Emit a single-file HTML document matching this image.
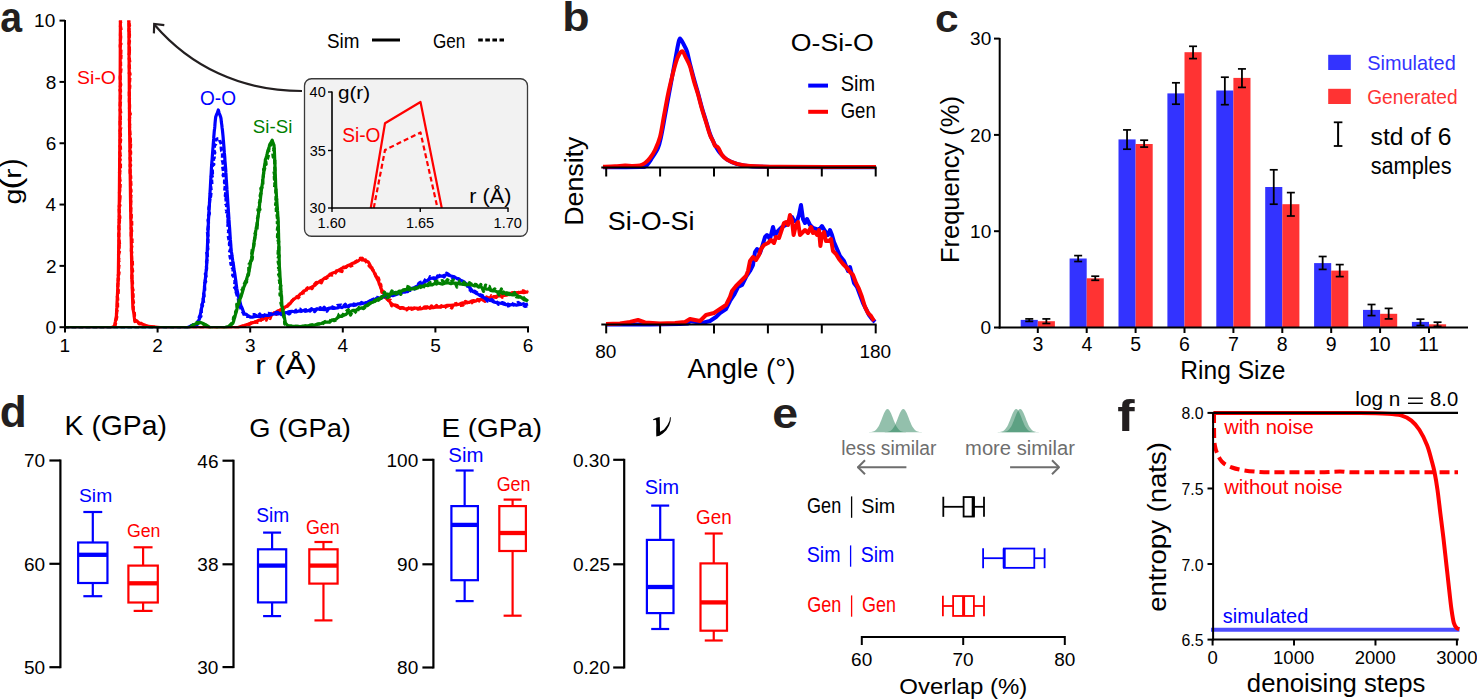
<!DOCTYPE html>
<html><head><meta charset="utf-8"><style>
html,body{margin:0;padding:0;background:#fff;overflow:hidden;width:1477px;height:700px;}
svg{display:block;}
text{font-family:"Liberation Sans", sans-serif;}
</style></head><body>
<svg width="1477" height="700" viewBox="0 0 1477 700">
<rect width="1477" height="700" fill="#fff"/>
<text x="0.32" y="32.00" font-size="41.67" fill="#231f20" font-weight="bold" font-style="normal" textLength="21.83" lengthAdjust="spacingAndGlyphs">a</text>
<defs><clipPath id="ca"><rect x="64" y="20.6" width="470" height="307.6"/></clipPath></defs>
<g clip-path="url(#ca)">
<path d="M65.00,327.50 L67.04,327.50 L69.09,327.50 L71.13,327.50 L73.17,327.50 L75.22,327.50 L77.26,327.50 L79.30,327.50 L81.35,327.50 L83.39,327.50 L85.43,327.50 L87.48,327.50 L89.52,327.50 L91.57,327.50 L93.61,327.50 L95.65,327.50 L97.70,327.50 L99.74,327.50 L101.78,327.50 L103.83,327.50 L105.87,327.50 L107.91,327.50 L109.96,327.50 L112.00,327.50 L114.50,326.03 L114.88,323.91 L115.26,322.12 L115.64,319.98 L116.02,317.90 L116.40,315.99 L116.50,313.54 L116.60,312.21 L116.70,309.40 L116.80,307.94 L116.90,305.55 L117.00,303.71 L117.10,301.28 L117.20,300.05 L117.30,296.85 L117.40,295.60 L117.50,293.61 L117.60,291.40 L117.70,288.89 L117.80,286.79 L117.90,284.82 L118.00,283.17 L118.10,281.59 L118.20,278.50 L118.30,276.51 L118.33,275.38 L118.35,272.83 L118.38,270.42 L118.41,268.58 L118.43,266.59 L118.46,264.60 L118.48,262.80 L118.51,260.77 L118.54,258.78 L118.56,257.30 L118.59,254.39 L118.62,252.31 L118.64,250.09 L118.67,248.71 L118.69,247.08 L118.72,244.67 L118.75,242.62 L118.77,240.37 L118.80,238.81 L118.83,236.30 L118.85,234.47 L118.88,232.05 L118.91,230.64 L118.93,228.31 L118.96,226.35 L118.98,224.29 L119.01,222.01 L119.04,220.65 L119.06,218.54 L119.09,215.93 L119.12,214.42 L119.14,212.12 L119.17,210.27 L119.19,207.62 L119.22,206.48 L119.25,204.10 L119.27,201.69 L119.30,200.42 L119.32,197.91 L119.33,196.05 L119.35,194.05 L119.37,191.82 L119.39,190.38 L119.41,187.89 L119.42,186.30 L119.44,184.31 L119.46,181.44 L119.47,179.74 L119.49,177.80 L119.51,175.69 L119.53,173.74 L119.55,171.70 L119.56,169.77 L119.58,167.84 L119.60,166.58 L119.61,163.58 L119.63,161.92 L119.65,159.87 L119.67,158.31 L119.69,156.07 L119.70,154.04 L119.72,152.36 L119.74,150.55 L119.75,148.14 L119.77,146.25 L119.79,143.91 L119.81,142.31 L119.83,140.36 L119.84,137.69 L119.86,135.63 L119.88,133.55 L119.89,131.92 L119.91,129.85 L119.93,128.52 L119.95,125.81 L119.97,123.79 L119.98,122.29 L120.00,120.44 L120.01,118.00 L120.02,115.49 L120.02,114.41 L120.03,112.25 L120.04,109.59 L120.05,108.33 L120.05,105.79 L120.06,103.34 L120.07,102.32 L120.08,99.59 L120.08,97.87 L120.09,95.98 L120.10,93.66 L120.11,91.49 L120.12,90.24 L120.12,87.35 L120.13,85.51 L120.14,84.19 L120.15,81.79 L120.15,79.56 L120.16,77.86 L120.17,76.10 L120.18,73.49 L120.18,71.10 L120.19,69.84 L120.20,67.38 L120.21,65.90 L120.22,63.15 L120.22,61.96 L120.23,59.41 L120.24,57.29 L120.25,55.36 L120.25,52.99 L120.26,51.31 L120.27,49.03 L120.28,46.86 L120.28,44.79 L120.29,43.40 L120.30,41.02 L120.31,38.95 L120.32,37.54 L120.32,35.24 L120.33,33.67 L120.34,30.88 L120.35,29.62 L120.35,27.44 L120.36,24.94 L120.37,22.87 L120.38,21.05 L120.38,18.45 L120.39,16.56 L120.40,14.58 L122.50,15.13 L124.60,14.45 L126.70,14.53 L128.80,14.57 L128.81,17.39 L128.83,19.50 L128.84,21.65 L128.85,22.59 L128.87,24.87 L128.88,26.88 L128.89,28.55 L128.91,30.56 L128.92,33.62 L128.93,34.98 L128.95,37.53 L128.96,38.74 L128.98,41.01 L128.99,43.54 L129.00,45.49 L129.02,46.79 L129.03,48.77 L129.04,51.86 L129.06,53.01 L129.07,55.29 L129.08,57.78 L129.10,58.89 L129.11,61.34 L129.12,63.18 L129.14,65.48 L129.15,67.06 L129.16,69.96 L129.18,71.73 L129.19,73.91 L129.20,75.10 L129.22,77.63 L129.23,79.54 L129.24,81.78 L129.26,83.20 L129.27,85.13 L129.28,87.95 L129.30,89.58 L129.31,91.80 L129.32,93.17 L129.34,96.37 L129.35,97.90 L129.37,100.01 L129.38,102.17 L129.39,104.04 L129.41,106.26 L129.42,108.39 L129.43,109.33 L129.45,111.93 L129.46,114.44 L129.47,115.37 L129.49,118.17 L129.50,119.74 L129.53,122.26 L129.55,124.54 L129.57,125.97 L129.60,128.24 L129.62,130.27 L129.65,131.51 L129.68,134.00 L129.70,135.71 L129.72,137.71 L129.75,140.01 L129.78,142.36 L129.80,143.59 L129.82,145.66 L129.85,147.54 L129.88,149.83 L129.90,151.65 L129.93,154.41 L129.95,156.13 L129.97,158.51 L130.00,160.32 L130.03,161.89 L130.05,164.05 L130.07,166.41 L130.10,167.51 L130.12,169.74 L130.15,171.86 L130.18,174.39 L130.20,175.80 L130.22,178.50 L130.25,180.52 L130.28,181.68 L130.30,184.39 L130.32,186.15 L130.35,187.66 L130.38,189.91 L130.40,191.77 L130.43,194.16 L130.45,196.34 L130.47,197.56 L130.50,199.44 L130.54,201.79 L130.57,203.89 L130.61,205.73 L130.65,208.48 L130.68,210.12 L130.72,211.94 L130.76,214.11 L130.79,216.76 L130.83,218.60 L130.87,220.61 L130.91,222.77 L130.94,224.35 L130.98,226.44 L131.02,228.48 L131.05,230.21 L131.09,232.21 L131.13,234.18 L131.16,236.88 L131.20,238.44 L131.24,239.94 L131.27,242.44 L131.31,243.99 L131.35,246.07 L131.38,248.77 L131.42,250.49 L131.46,252.52 L131.49,254.38 L131.53,256.73 L131.57,259.15 L131.61,261.32 L131.64,263.22 L131.68,265.15 L131.72,266.99 L131.75,268.62 L131.79,271.00 L131.83,272.42 L131.86,275.13 L131.90,277.24 L131.96,279.13 L132.03,281.08 L132.09,282.99 L132.16,285.61 L132.22,287.00 L132.29,289.93 L132.35,291.15 L132.41,293.48 L132.48,296.20 L132.54,298.29 L132.61,299.52 L132.67,301.92 L132.74,303.98 L132.80,305.59 L133.12,308.51 L133.43,311.00 L133.75,312.62 L134.07,314.64 L134.38,317.77 L134.70,320.12 L136.65,320.70 L138.60,322.79 L140.53,323.48 L142.45,324.12 L144.38,325.12 L146.30,325.96 L148.58,326.24 L150.87,326.50 L153.15,326.75 L155.43,327.00 L157.72,327.25 L160.00,327.50 L162.00,327.50 L164.00,327.50 L166.00,327.50 L168.00,327.50 L170.00,327.50 L172.00,327.50 L174.00,327.50 L176.00,327.50 L178.00,327.50 L180.00,327.50 L182.00,327.50 L184.00,327.50 L186.00,327.50 L188.00,327.50 L190.00,327.50 L192.00,327.50 L194.00,327.50 L196.00,327.50 L198.00,327.50 L200.00,327.50 L202.00,327.50 L204.00,327.50 L206.00,327.50 L208.00,327.50 L210.00,327.50 L212.00,327.50 L214.00,327.50 L216.00,327.50 L218.00,327.50 L220.00,327.50 L222.00,327.50 L224.00,327.50 L226.00,327.50 L228.00,327.50 L230.00,327.50 L232.00,327.50 L234.00,327.50 L236.00,327.50 L238.00,327.50 L240.11,326.81 L242.22,326.13 L244.33,325.48 L246.44,324.77 L248.56,324.01 L250.67,323.15 L252.78,322.68 L254.89,322.28 L257.00,321.16 L258.86,320.17 L260.71,320.05 L262.57,319.35 L264.43,318.07 L266.29,316.94 L268.14,317.22 L270.00,315.51 L272.00,314.57 L274.00,313.00 L276.00,312.32 L278.00,310.73 L280.00,310.23 L282.27,308.78 L284.53,307.44 L286.80,306.29 L288.50,304.89 L290.20,303.47 L291.90,301.03 L293.60,299.40 L295.28,298.26 L296.95,296.89 L298.62,295.98 L300.30,293.91 L302.00,293.14 L303.70,291.09 L305.40,290.41 L307.10,288.22 L309.37,288.25 L311.63,287.32 L313.90,285.92 L315.60,284.61 L317.30,283.11 L319.00,281.76 L320.70,280.75 L322.40,279.78 L324.10,278.72 L325.80,277.72 L327.50,276.47 L329.77,275.05 L332.03,273.35 L334.30,272.60 L336.53,271.44 L338.77,270.08 L341.00,268.81 L343.27,267.83 L345.53,267.43 L347.80,265.45 L350.07,264.70 L352.33,263.31 L354.60,262.83 L356.48,261.76 L358.35,260.88 L360.23,259.34 L362.10,258.05 L364.13,260.30 L366.17,260.96 L368.20,261.98 L369.28,263.66 L370.36,265.73 L371.44,267.49 L372.52,269.56 L373.60,271.36 L374.62,273.37 L375.65,275.83 L376.68,277.76 L377.70,279.89 L378.52,281.21 L379.34,284.16 L380.16,285.69 L380.98,288.52 L381.80,289.90 L383.13,292.65 L384.47,294.20 L385.80,297.49 L387.15,299.23 L388.50,300.28 L389.85,301.75 L391.20,303.94 L393.25,304.70 L395.30,305.59 L397.35,306.75 L399.40,307.77 L401.77,307.58 L404.15,308.62 L406.52,308.77 L408.90,308.45 L411.12,308.09 L413.34,308.78 L415.56,308.02 L417.78,308.42 L420.00,308.85 L422.00,308.61 L424.00,307.90 L426.00,308.20 L428.00,307.25 L430.00,308.05 L432.00,307.69 L434.00,307.54 L436.00,307.20 L438.14,307.06 L440.29,307.15 L442.43,306.26 L444.57,306.30 L446.71,305.45 L448.86,305.28 L451.00,305.44 L453.00,305.06 L455.00,304.86 L457.00,304.77 L459.00,304.20 L461.00,303.39 L463.00,302.89 L465.00,303.17 L467.14,302.25 L469.29,302.30 L471.43,301.12 L473.57,300.66 L475.71,301.07 L477.86,299.86 L480.00,299.70 L482.00,299.26 L484.00,298.80 L486.00,298.09 L488.00,297.90 L490.00,297.81 L492.00,297.41 L494.00,296.57 L496.00,296.28 L498.00,295.84 L500.00,295.75 L502.00,295.80 L504.17,295.36 L506.33,295.12 L508.50,294.40 L510.67,293.71 L512.83,292.95 L515.00,292.75 L517.17,292.55 L519.33,292.67 L521.50,292.17 L523.67,292.75 L525.83,292.20 L528.00,291.99" fill="none" stroke="#ff0000" stroke-width="3.2" stroke-linejoin="round" stroke-linecap="butt" />
<path d="M65.00,327.50 L67.24,327.50 L69.48,327.50 L71.71,327.50 L73.95,327.50 L76.19,327.50 L78.43,327.50 L80.67,327.50 L82.90,327.50 L85.14,327.50 L87.38,327.50 L89.62,327.50 L91.86,327.50 L94.10,327.50 L96.33,327.50 L98.57,327.50 L100.81,327.50 L103.05,327.50 L105.29,327.50 L107.52,327.50 L109.76,327.50 L112.00,327.50 L114.48,326.02 L114.98,324.11 L115.61,320.22 L116.41,316.59 L116.32,316.98 L116.16,313.47 L116.16,312.01 L117.00,309.29 L117.22,305.81 L117.15,304.82 L117.15,301.90 L117.52,301.87 L117.27,298.30 L116.97,296.19 L117.66,295.24 L117.95,289.70 L117.63,289.19 L117.38,285.95 L117.63,282.09 L117.64,282.80 L117.82,278.12 L118.19,278.71 L117.91,274.57 L118.41,274.36 L118.70,272.07 L118.19,267.81 L118.30,267.77 L118.93,262.19 L118.18,260.37 L118.26,259.33 L118.65,256.11 L118.09,254.63 L118.48,253.11 L119.10,251.48 L118.69,248.94 L118.88,244.15 L119.13,245.29 L119.13,243.17 L118.68,239.14 L118.42,238.02 L118.41,233.21 L118.58,231.45 L118.74,228.74 L118.43,227.00 L118.56,225.77 L118.51,225.92 L119.13,220.38 L118.80,219.10 L118.94,215.87 L119.45,217.67 L119.09,213.13 L118.74,209.17 L119.03,207.72 L119.54,205.04 L118.77,206.47 L119.30,200.57 L119.34,197.82 L119.35,199.98 L119.70,196.46 L119.12,192.72 L119.04,192.36 L119.43,190.17 L119.25,185.39 L119.75,186.68 L119.81,183.63 L119.79,181.10 L119.22,177.86 L119.37,173.39 L119.06,172.32 L119.31,172.00 L120.03,168.65 L120.03,168.91 L120.07,163.82 L119.35,160.97 L119.35,158.64 L119.79,159.62 L120.03,155.46 L119.86,154.71 L119.31,151.85 L120.16,150.19 L120.02,146.57 L119.46,145.77 L119.64,143.61 L120.30,139.52 L119.75,139.83 L120.09,134.04 L119.51,131.73 L120.31,132.52 L119.57,130.39 L120.42,127.39 L119.81,124.67 L119.61,119.99 L120.47,120.69 L120.04,119.76 L119.95,117.24 L120.35,111.97 L119.79,110.11 L119.78,109.23 L119.81,106.22 L119.69,106.25 L119.92,101.94 L120.16,101.75 L120.01,99.58 L120.10,95.57 L120.13,90.98 L120.05,89.50 L119.62,90.10 L119.80,86.37 L120.36,84.52 L119.97,82.11 L120.21,81.09 L119.77,77.83 L119.92,74.29 L120.45,73.12 L120.25,72.05 L120.61,68.36 L120.32,66.41 L120.22,65.04 L120.17,62.07 L120.21,61.71 L120.44,59.18 L120.69,54.11 L120.31,55.02 L120.60,49.08 L119.89,48.24 L119.85,45.08 L119.86,44.82 L120.58,43.63 L119.96,40.57 L120.48,35.70 L120.71,37.26 L120.05,34.95 L120.24,30.58 L120.84,29.93 L120.02,25.86 L120.38,23.20 L120.07,20.87 L120.61,17.26 L120.45,16.96 L119.92,14.22 L123.32,15.06 L125.56,17.23 L129.09,17.17 L128.42,16.16 L128.37,20.75 L128.62,20.00 L128.78,25.83 L129.19,25.06 L128.54,30.33 L128.97,31.56 L128.51,30.84 L129.12,34.76 L128.52,39.36 L129.10,40.96 L128.56,43.45 L128.56,45.71 L128.96,45.54 L129.08,50.47 L128.81,49.04 L129.08,51.78 L128.68,53.66 L128.63,56.07 L128.91,58.78 L129.37,60.95 L129.13,62.67 L128.99,64.17 L128.91,66.39 L129.41,71.09 L128.88,72.97 L129.64,73.51 L129.54,77.24 L129.23,81.33 L129.14,82.05 L129.45,86.47 L129.12,88.02 L129.50,89.35 L129.21,90.26 L128.88,91.49 L128.91,96.53 L129.11,96.11 L128.95,101.46 L129.75,102.91 L129.18,103.18 L129.20,106.41 L129.08,108.58 L129.20,113.19 L129.93,113.51 L129.21,117.67 L129.29,117.11 L129.00,119.46 L129.50,122.23 L129.26,124.47 L129.09,125.58 L129.20,128.43 L129.18,128.91 L129.47,132.10 L129.78,135.69 L129.97,138.50 L129.97,141.74 L129.67,141.42 L130.29,142.83 L130.06,147.33 L129.40,150.43 L130.28,151.70 L130.15,154.77 L129.58,155.66 L129.98,159.32 L130.30,161.50 L130.11,164.03 L130.24,165.33 L129.81,164.51 L129.74,168.25 L129.74,172.66 L130.23,173.92 L130.32,176.39 L130.21,175.49 L130.55,181.14 L130.28,182.38 L130.46,182.45 L130.57,185.53 L129.94,187.81 L130.62,189.76 L130.66,195.52 L130.44,195.02 L130.45,198.62 L130.77,200.54 L130.68,200.26 L130.23,203.27 L130.86,205.70 L130.73,206.56 L130.26,209.94 L130.91,214.08 L130.96,214.44 L130.84,217.44 L130.83,218.05 L131.29,220.62 L131.42,226.21 L130.50,226.21 L131.34,230.75 L131.01,229.74 L130.81,235.05 L130.85,235.57 L130.82,237.51 L131.67,237.91 L131.58,241.84 L131.69,244.94 L131.07,248.03 L131.37,246.21 L130.92,250.56 L131.41,251.89 L131.14,254.28 L131.36,258.77 L131.08,260.55 L131.96,259.85 L132.09,264.78 L132.10,265.03 L131.61,267.71 L132.28,270.81 L131.68,272.27 L131.64,272.72 L131.50,278.54 L131.75,281.23 L131.79,280.38 L132.12,282.27 L132.05,288.02 L132.63,289.59 L132.45,292.29 L132.83,292.84 L132.67,292.77 L132.76,296.85 L132.84,299.97 L132.45,299.46 L133.16,302.05 L132.77,305.28 L132.91,309.38 L133.91,309.46 L133.91,311.93 L134.12,314.65 L134.05,315.86 L134.45,321.29 L136.65,320.23 L138.80,323.64 L141.15,323.08 L143.67,324.44 L146.29,325.88 L148.58,326.22 L150.87,326.50 L153.15,326.75 L155.43,327.00 L157.72,327.25 L160.00,327.50 L162.23,327.50 L164.46,327.50 L166.69,327.50 L168.91,327.50 L171.14,327.50 L173.37,327.50 L175.60,327.50 L177.83,327.50 L180.06,327.50 L182.29,327.50 L184.51,327.50 L186.74,327.50 L188.97,327.50 L191.20,327.50 L193.43,327.50 L195.66,327.50 L197.89,327.50 L200.11,327.50 L202.34,327.50 L204.57,327.50 L206.80,327.50 L209.03,327.50 L211.26,327.50 L213.49,327.50 L215.71,327.50 L217.94,327.50 L220.17,327.50 L222.40,327.50 L224.63,327.50 L226.86,327.50 L229.09,327.50 L231.31,327.50 L233.54,327.50 L235.77,327.50 L238.00,327.50 L240.11,326.81 L242.21,326.02 L244.31,325.38 L246.48,324.44 L248.65,324.39 L250.67,322.84 L253.00,322.26 L255.07,321.29 L256.82,322.08 L259.01,322.00 L261.33,318.28 L263.23,318.28 L265.83,319.83 L267.48,316.39 L269.71,318.18 L271.64,312.72 L273.56,313.07 L276.40,314.10 L278.23,313.41 L280.43,309.11 L281.95,310.77 L284.78,305.48 L286.96,305.94 L288.37,304.03 L289.87,300.81 L291.68,300.72 L294.06,297.97 L296.30,296.55 L297.92,297.58 L300.62,293.99 L302.12,292.34 L304.71,292.56 L306.79,288.18 L309.76,285.74 L311.54,288.43 L314.17,283.99 L315.70,282.29 L318.85,281.38 L320.95,282.53 L322.81,278.09 L325.69,278.10 L327.26,277.00 L329.58,273.83 L331.54,274.91 L334.72,273.22 L336.98,269.28 L338.50,270.22 L341.46,271.29 L343.15,266.92 L345.46,266.90 L348.23,264.34 L350.37,265.76 L352.66,264.79 L354.71,261.61 L356.92,260.46 L359.88,257.86 L361.80,259.66 L363.88,257.80 L365.70,261.34 L368.03,264.61 L369.93,266.84 L370.66,264.89 L371.85,268.99 L373.81,270.96 L374.36,272.84 L375.77,276.05 L376.92,278.87 L377.86,277.56 L378.86,280.53 L379.41,283.08 L380.40,284.46 L380.73,286.85 L381.45,291.97 L383.21,291.67 L384.36,297.00 L385.81,295.76 L387.91,299.97 L389.89,299.70 L391.17,305.27 L393.59,306.71 L394.84,304.85 L396.97,305.37 L399.87,308.18 L402.21,307.39 L404.52,307.92 L406.28,309.60 L409.35,306.69 L411.22,309.03 L413.06,307.86 L415.20,307.08 L417.53,308.88 L420.15,307.04 L421.80,307.41 L424.75,306.55 L426.67,306.44 L429.44,307.82 L430.99,305.57 L433.61,307.43 L436.14,305.12 L438.16,307.65 L440.91,305.50 L443.31,308.33 L445.81,306.31 L448.36,305.37 L451.36,307.78 L453.20,303.62 L455.89,303.17 L457.51,305.90 L460.26,305.04 L462.57,304.84 L464.96,301.05 L467.01,302.35 L470.14,303.52 L472.09,301.71 L474.87,300.69 L477.15,299.19 L480.02,301.66 L481.81,299.22 L484.70,300.97 L486.30,296.66 L489.24,300.13 L490.98,295.45 L493.63,296.54 L495.80,297.17 L497.92,294.62 L500.09,294.46 L501.90,296.89 L504.93,293.40 L506.92,293.96 L509.82,293.44 L512.02,292.38 L515.22,294.93 L517.14,293.11 L520.46,290.42 L523.14,290.50 L525.50,292.21 L528.13,290.81" fill="none" stroke="#ff0000" stroke-width="3.2" stroke-linejoin="round" stroke-linecap="butt" stroke-dasharray="4.5,2.5" transform="translate(0.4,0.3)"/>
<path d="M65.00,327.50 L67.02,327.50 L69.03,327.50 L71.05,327.50 L73.07,327.50 L75.08,327.50 L77.10,327.50 L79.11,327.50 L81.13,327.50 L83.15,327.50 L85.16,327.50 L87.18,327.50 L89.20,327.50 L91.21,327.50 L93.23,327.50 L95.25,327.50 L97.26,327.50 L99.28,327.50 L101.30,327.50 L103.31,327.50 L105.33,327.50 L107.34,327.50 L109.36,327.50 L111.38,327.50 L113.39,327.50 L115.41,327.50 L117.43,327.50 L119.44,327.50 L121.46,327.50 L123.48,327.50 L125.49,327.50 L127.51,327.50 L129.52,327.50 L131.54,327.50 L133.56,327.50 L135.57,327.50 L137.59,327.50 L139.61,327.50 L141.62,327.50 L143.64,327.50 L145.66,327.50 L147.67,327.50 L149.69,327.50 L151.70,327.50 L153.72,327.50 L155.74,327.50 L157.75,327.50 L159.77,327.50 L161.79,327.50 L163.80,327.50 L165.82,327.50 L167.84,327.50 L169.85,327.50 L171.87,327.50 L173.89,327.50 L175.90,327.50 L177.92,327.50 L179.93,327.50 L181.95,327.50 L183.97,327.50 L185.98,327.50 L188.00,327.50 L190.50,326.26 L193.00,324.95 L195.05,324.81 L197.10,324.64 L197.97,322.34 L198.83,320.07 L199.70,318.21 L200.12,315.15 L200.55,313.23 L200.97,311.52 L201.40,309.05 L201.82,306.71 L202.25,304.53 L202.67,302.51 L203.10,300.57 L203.31,298.24 L203.51,296.59 L203.72,295.23 L203.92,292.67 L204.13,290.98 L204.34,289.07 L204.54,286.13 L204.75,284.26 L204.95,282.12 L205.16,280.37 L205.36,278.87 L205.57,276.75 L205.78,274.99 L205.98,272.96 L206.19,270.52 L206.39,268.83 L206.60,265.94 L206.68,264.42 L206.77,262.41 L206.85,260.90 L206.93,257.83 L207.01,255.75 L207.10,253.82 L207.18,252.72 L207.26,250.63 L207.34,248.39 L207.43,246.49 L207.51,244.52 L207.59,241.96 L207.67,240.14 L207.76,238.50 L207.84,235.54 L207.92,233.83 L208.00,232.63 L208.09,230.51 L208.17,227.97 L208.25,226.37 L208.33,223.75 L208.42,222.50 L208.50,219.63 L208.62,217.91 L208.73,215.97 L208.85,214.21 L208.96,211.28 L209.08,209.47 L209.20,207.64 L209.31,205.98 L209.43,203.81 L209.54,201.37 L209.66,198.83 L209.78,196.91 L209.89,194.86 L210.01,193.22 L210.12,190.87 L210.24,189.23 L210.36,187.08 L210.47,184.92 L210.59,182.73 L210.70,180.32 L210.82,178.71 L210.94,177.03 L211.05,175.18 L211.17,173.00 L211.28,170.78 L211.40,168.70 L211.55,166.20 L211.71,164.75 L211.86,161.93 L212.01,160.59 L212.16,158.77 L212.32,156.29 L212.47,154.42 L212.62,152.30 L212.78,150.33 L212.93,148.19 L213.08,146.87 L213.24,144.21 L213.39,142.32 L213.54,140.71 L213.69,138.91 L213.85,136.20 L214.00,134.60 L214.21,131.81 L214.43,129.79 L214.64,128.41 L214.85,126.22 L215.06,123.19 L215.27,120.91 L215.49,118.80 L215.70,116.96 L216.57,114.42 L217.43,112.80 L218.30,109.98 L219.13,113.03 L219.97,115.08 L220.80,117.46 L221.06,118.84 L221.33,121.55 L221.59,123.58 L221.85,125.31 L222.11,127.76 L222.38,129.69 L222.64,132.24 L222.90,134.79 L223.06,136.57 L223.22,138.51 L223.38,140.76 L223.54,142.05 L223.69,144.02 L223.85,145.89 L224.01,147.91 L224.17,150.48 L224.33,152.66 L224.49,154.22 L224.65,155.83 L224.81,157.95 L224.96,160.81 L225.12,162.40 L225.28,164.04 L225.44,166.51 L225.60,168.08 L225.74,169.98 L225.87,172.92 L226.01,174.21 L226.14,176.82 L226.28,179.33 L226.42,180.98 L226.55,182.91 L226.69,185.36 L226.82,186.89 L226.96,189.45 L227.10,191.07 L227.23,193.29 L227.37,195.68 L227.50,197.41 L227.64,199.33 L227.78,201.76 L227.91,203.81 L228.05,205.65 L228.18,207.27 L228.32,209.62 L228.46,212.24 L228.59,213.64 L228.73,215.83 L228.86,217.53 L229.00,219.92 L229.15,221.56 L229.30,224.55 L229.45,226.36 L229.60,227.82 L229.75,230.40 L229.90,232.69 L230.05,235.10 L230.20,237.29 L230.35,239.40 L230.50,240.87 L230.65,243.04 L230.80,244.59 L230.95,247.37 L231.10,248.84 L231.42,251.96 L231.73,253.54 L232.05,256.12 L232.37,258.14 L232.68,260.56 L233.00,262.50 L233.32,263.71 L233.63,266.19 L233.95,269.13 L234.27,270.71 L234.58,272.56 L234.90,274.54 L235.21,276.62 L235.53,278.89 L235.84,280.88 L236.15,283.70 L236.46,286.15 L236.78,288.42 L237.09,290.12 L237.40,291.71 L237.90,293.76 L238.40,296.39 L238.90,298.10 L239.40,300.25 L239.90,301.56 L240.40,303.62 L240.90,305.84 L241.75,307.35 L242.60,309.43 L243.45,312.05 L244.30,313.86 L246.30,314.39 L248.30,315.91 L250.30,317.12 L252.30,317.19 L254.30,316.61 L256.30,316.48 L258.30,316.13 L260.30,316.70 L262.30,315.58 L264.58,315.21 L266.87,315.41 L269.15,315.33 L271.43,314.52 L273.72,313.98 L276.00,313.56 L278.28,313.87 L280.57,313.32 L282.85,313.22 L285.13,312.90 L287.42,312.30 L289.70,311.49 L291.98,311.24 L294.27,311.82 L296.55,311.82 L298.83,310.94 L301.12,311.24 L303.40,310.46 L305.68,311.29 L307.97,310.65 L310.25,309.64 L312.53,309.52 L314.82,309.72 L317.10,308.71 L320.00,309.32 L322.18,309.40 L324.36,309.61 L326.54,308.95 L328.72,308.30 L330.90,307.91 L333.08,308.46 L335.26,308.08 L337.44,308.02 L339.62,306.94 L341.80,307.59 L343.79,306.33 L345.78,306.80 L347.77,306.40 L349.76,305.07 L351.75,304.95 L353.75,305.55 L355.74,304.92 L357.73,303.83 L359.72,303.90 L361.71,303.71 L363.70,303.21 L365.77,303.01 L367.84,302.32 L369.91,300.76 L371.99,299.99 L374.06,299.84 L376.13,298.56 L378.20,297.75 L380.29,298.34 L382.37,297.28 L384.46,296.80 L386.54,296.16 L388.63,296.36 L390.71,295.20 L392.80,295.71 L394.87,295.08 L396.94,294.22 L399.01,293.55 L401.09,292.86 L403.16,291.76 L405.23,292.10 L407.30,291.38 L409.11,289.61 L410.93,288.72 L412.74,288.14 L414.55,287.37 L416.36,286.52 L418.18,285.46 L419.99,284.45 L421.80,283.44 L423.65,283.16 L425.50,281.24 L427.35,280.84 L429.20,278.92 L431.38,278.27 L433.55,277.90 L435.73,278.20 L437.90,276.90 L440.07,276.05 L442.25,276.16 L444.43,275.36 L446.60,274.42 L448.78,275.33 L450.97,275.92 L453.15,276.57 L455.33,277.47 L457.52,278.89 L459.70,279.86 L461.80,280.82 L463.90,281.73 L466.00,283.83 L467.70,285.87 L469.40,287.10 L471.10,289.26 L472.80,291.49 L474.60,292.20 L476.40,293.58 L478.20,294.16 L480.00,295.63 L481.85,296.52 L483.70,297.53 L485.55,298.38 L487.40,299.28 L489.49,300.38 L491.57,300.58 L493.66,301.91 L495.74,302.47 L497.83,302.68 L499.91,303.25 L502.00,303.46 L504.07,304.12 L506.14,304.78 L508.21,304.14 L510.29,304.96 L512.36,304.48 L514.43,304.45 L516.50,305.14 L518.80,304.70 L521.10,304.43 L523.40,303.72 L525.70,304.64 L528.00,304.01" fill="none" stroke="#0000ff" stroke-width="3.2" stroke-linejoin="round" stroke-linecap="butt" />
<path d="M65.00,327.50 L67.24,327.50 L69.47,327.50 L71.71,327.50 L73.95,327.50 L76.18,327.50 L78.42,327.50 L80.65,327.50 L82.89,327.50 L85.13,327.50 L87.36,327.50 L89.60,327.50 L91.84,327.50 L94.07,327.50 L96.31,327.50 L98.55,327.50 L100.78,327.50 L103.02,327.50 L105.25,327.50 L107.49,327.50 L109.73,327.50 L111.96,327.50 L114.20,327.50 L116.44,327.50 L118.67,327.50 L120.91,327.50 L123.15,327.50 L125.38,327.50 L127.62,327.50 L129.85,327.50 L132.09,327.50 L134.33,327.50 L136.56,327.50 L138.80,327.50 L141.04,327.50 L143.27,327.50 L145.51,327.50 L147.75,327.50 L149.98,327.50 L152.22,327.50 L154.45,327.50 L156.69,327.50 L158.93,327.50 L161.16,327.50 L163.40,327.50 L165.64,327.50 L167.87,327.50 L170.11,327.50 L172.35,327.50 L174.58,327.50 L176.82,327.50 L179.05,327.50 L181.29,327.50 L183.53,327.50 L185.76,327.50 L188.00,327.50 L190.52,326.20 L193.07,325.39 L197.14,325.23 L198.05,321.83 L199.17,320.50 L199.86,316.64 L201.47,316.32 L201.92,312.33 L201.62,311.44 L202.10,307.27 L202.46,304.45 L202.90,306.16 L204.10,302.18 L203.64,298.54 L203.25,295.92 L204.63,296.34 L204.22,293.65 L205.16,290.92 L205.25,288.90 L205.04,286.33 L205.17,283.01 L206.22,281.64 L205.73,280.49 L206.57,276.50 L205.82,274.03 L206.31,272.34 L206.75,270.74 L207.15,268.39 L206.78,265.42 L207.51,264.01 L206.99,261.81 L207.93,258.84 L208.21,257.81 L207.58,253.58 L207.12,252.73 L208.46,248.82 L208.17,247.67 L208.34,242.89 L208.53,242.51 L208.45,239.51 L208.49,238.87 L208.61,236.36 L207.74,231.52 L208.55,231.52 L208.34,229.42 L209.14,224.20 L209.03,222.79 L208.51,220.10 L209.08,218.06 L209.02,215.13 L209.60,214.45 L209.98,213.16 L209.53,212.34 L209.30,207.79 L209.89,205.55 L209.77,205.23 L210.33,199.31 L210.86,197.32 L210.89,196.18 L211.09,196.77 L211.62,192.03 L211.76,190.80 L211.19,186.24 L211.75,185.87 L212.53,185.42 L212.17,180.27 L212.83,176.35 L211.77,176.64 L212.78,172.38 L213.01,173.52 L212.80,169.10 L212.76,166.14 L214.16,164.24 L214.34,164.39 L213.95,159.07 L214.77,157.85 L214.15,154.52 L215.34,152.79 L214.51,150.21 L214.53,148.36 L215.33,144.33 L216.15,144.27 L216.22,139.93 L217.94,138.80 L220.00,138.61 L220.43,141.18 L221.93,144.33 L221.67,147.68 L222.08,150.79 L222.59,151.08 L222.97,154.43 L222.95,157.11 L222.78,160.31 L223.26,161.84 L223.92,165.21 L222.99,165.96 L223.87,171.33 L224.77,171.93 L223.58,175.31 L224.45,176.69 L225.10,179.25 L224.95,182.85 L225.00,182.77 L225.96,184.18 L225.27,189.40 L225.08,191.69 L226.25,192.09 L225.77,195.95 L226.94,195.28 L226.42,199.41 L226.62,200.66 L226.24,204.10 L227.46,203.98 L226.70,209.69 L227.77,211.24 L226.71,213.77 L228.41,217.30 L228.13,215.19 L228.53,218.23 L228.38,223.86 L228.66,222.36 L228.16,228.23 L228.10,229.07 L228.69,229.27 L229.20,230.99 L228.56,234.87 L228.70,235.73 L229.69,241.21 L230.37,240.75 L229.85,243.92 L230.31,247.06 L231.04,248.87 L229.82,252.70 L230.16,254.73 L230.92,258.35 L231.19,259.36 L231.10,261.30 L231.47,264.47 L232.27,263.88 L232.20,267.23 L233.38,268.61 L233.72,273.05 L233.10,275.36 L233.49,275.12 L234.67,277.90 L235.50,281.27 L235.03,285.22 L234.98,287.40 L235.44,287.26 L237.29,292.20 L236.54,292.10 L238.16,297.13 L238.61,297.13 L239.00,300.54 L239.08,302.87 L240.38,305.36 L240.72,306.81 L242.56,311.41 L243.65,312.68 L244.86,315.32 L247.45,316.46 L250.68,316.52 L252.06,314.67 L254.62,314.52 L258.12,316.37 L260.32,313.98 L262.25,317.89 L264.77,315.36 L266.81,313.43 L268.60,313.28 L271.23,313.91 L274.33,312.42 L275.61,312.58 L277.74,312.34 L280.14,312.95 L282.10,314.70 L284.92,314.48 L287.72,312.98 L289.65,313.95 L291.37,312.53 L293.93,312.40 L296.92,309.90 L298.35,309.11 L300.69,309.21 L303.24,313.18 L305.47,309.85 L307.92,309.44 L310.62,311.15 L311.99,308.67 L315.09,311.61 L317.33,308.98 L320.76,307.63 L321.72,310.86 L324.70,307.16 L327.34,311.19 L329.72,307.92 L331.46,306.32 L335.17,307.93 L337.65,305.59 L338.97,305.25 L341.64,304.98 L343.60,306.20 L345.87,304.20 L347.63,308.06 L350.05,305.56 L352.59,305.29 L354.27,303.92 L356.50,304.60 L359.99,304.49 L362.08,302.36 L362.93,303.48 L366.10,302.78 L368.34,302.18 L371.31,302.65 L373.06,299.67 L376.31,297.78 L377.59,297.33 L379.97,298.97 L383.58,296.37 L384.91,294.83 L387.53,294.35 L390.25,296.14 L392.39,293.28 L395.54,292.50 L397.15,292.88 L399.85,291.30 L402.34,291.58 L405.29,291.97 L407.93,291.71 L409.79,290.30 L411.35,290.37 L413.76,289.96 L415.95,287.75 L417.29,287.22 L419.54,283.04 L421.11,282.18 L423.89,283.04 L426.39,278.76 L429.62,279.56 L430.62,276.70 L432.96,277.57 L436.30,279.75 L438.08,275.91 L439.96,275.98 L441.98,273.83 L444.56,277.04 L446.96,273.14 L448.83,274.20 L451.30,276.19 L453.85,278.51 L454.72,277.03 L458.18,278.40 L459.59,279.03 L462.23,282.77 L463.95,284.39 L466.15,281.88 L468.20,285.15 L468.68,289.55 L470.35,289.53 L472.77,292.76 L475.03,291.13 L477.24,292.49 L480.10,294.64 L482.87,295.58 L484.70,297.08 L488.17,301.26 L490.39,300.96 L492.11,299.49 L495.23,301.80 L496.39,301.05 L498.92,304.28 L502.64,302.62 L504.89,303.32 L507.13,305.94 L509.45,305.78 L511.47,302.28 L514.10,305.07 L516.00,304.29 L518.51,302.46 L520.80,303.94 L523.36,305.26 L525.54,306.38 L528.50,305.95" fill="none" stroke="#0000ff" stroke-width="3.2" stroke-linejoin="round" stroke-linecap="butt" stroke-dasharray="4.5,2.5" transform="translate(-0.5,0)"/>
<path d="M65.00,327.50 L67.02,327.50 L69.03,327.50 L71.05,327.50 L73.06,327.50 L75.08,327.50 L77.10,327.50 L79.11,327.50 L81.13,327.50 L83.15,327.50 L85.16,327.50 L87.18,327.50 L89.19,327.50 L91.21,327.50 L93.23,327.50 L95.24,327.50 L97.26,327.50 L99.27,327.50 L101.29,327.50 L103.31,327.50 L105.32,327.50 L107.34,327.50 L109.35,327.50 L111.37,327.50 L113.39,327.50 L115.40,327.50 L117.42,327.50 L119.44,327.50 L121.45,327.50 L123.47,327.50 L125.48,327.50 L127.50,327.50 L129.52,327.50 L131.53,327.50 L133.55,327.50 L135.56,327.50 L137.58,327.50 L139.60,327.50 L141.61,327.50 L143.63,327.50 L145.65,327.50 L147.66,327.50 L149.68,327.50 L151.69,327.50 L153.71,327.50 L155.73,327.50 L157.74,327.50 L159.76,327.50 L161.77,327.50 L163.79,327.50 L165.81,327.50 L167.82,327.50 L169.84,327.50 L171.85,327.50 L173.87,327.50 L175.89,327.50 L177.90,327.50 L179.92,327.50 L181.94,327.50 L183.95,327.50 L185.97,327.50 L187.98,327.50 L190.00,327.50 L192.00,325.98 L194.00,324.59 L196.00,323.69 L198.00,323.40 L200.00,322.32 L202.50,323.32 L205.00,324.41 L207.50,325.96 L210.00,327.50 L212.00,327.50 L214.00,327.50 L216.00,327.50 L218.00,327.50 L220.00,327.50 L222.00,327.50 L224.00,327.50 L226.00,327.50 L229.70,326.02 L231.35,324.70 L233.00,323.03 L233.59,321.34 L234.18,319.09 L234.77,317.33 L235.36,314.85 L235.94,313.04 L236.53,310.80 L237.12,308.34 L237.71,305.92 L238.30,304.17 L238.97,302.22 L239.64,300.61 L240.31,297.82 L240.99,296.13 L241.66,294.54 L242.33,292.40 L243.00,290.16 L243.70,287.48 L244.40,285.82 L245.10,284.41 L245.80,280.87 L246.50,279.85 L247.20,276.95 L247.90,275.64 L248.60,273.93 L249.00,271.45 L249.40,268.95 L249.80,267.61 L250.20,264.64 L250.60,262.42 L251.00,260.59 L251.40,259.03 L251.80,257.07 L252.20,253.71 L252.60,251.76 L253.00,249.86 L253.30,247.99 L253.60,246.54 L253.90,243.92 L254.20,241.25 L254.50,239.27 L254.80,238.11 L255.10,236.47 L255.40,233.42 L255.70,231.24 L256.00,229.58 L256.34,227.28 L256.68,225.91 L257.02,224.25 L257.36,222.73 L257.70,219.52 L257.95,217.47 L258.21,215.92 L258.46,213.43 L258.71,211.68 L258.96,209.94 L259.22,208.30 L259.47,206.34 L259.72,203.20 L259.98,202.20 L260.23,199.75 L260.48,198.46 L260.74,195.90 L260.99,194.25 L261.24,191.69 L261.49,189.26 L261.75,188.23 L262.00,186.05 L262.28,184.20 L262.57,182.18 L262.85,179.74 L263.13,177.79 L263.42,174.75 L263.70,172.76 L263.98,171.14 L264.27,167.81 L264.55,165.73 L264.83,163.76 L265.12,162.60 L265.40,159.44 L266.01,158.16 L266.63,155.90 L267.24,153.39 L267.86,150.54 L268.47,149.04 L269.09,147.17 L269.70,144.64 L270.95,142.55 L272.20,140.11 L273.10,143.09 L274.00,145.16 L274.11,146.84 L274.23,148.52 L274.34,151.21 L274.46,152.64 L274.57,155.63 L274.69,158.28 L274.80,159.99 L274.88,161.45 L274.95,164.15 L275.02,167.10 L275.10,168.52 L275.18,170.60 L275.25,173.49 L275.32,174.70 L275.40,177.32 L275.48,178.68 L275.55,180.65 L275.62,183.12 L275.70,185.42 L275.85,187.91 L275.99,190.10 L276.14,191.77 L276.29,193.29 L276.44,195.69 L276.58,197.67 L276.73,199.28 L276.88,202.05 L277.02,203.91 L277.17,206.06 L277.32,207.47 L277.46,210.41 L277.61,211.63 L277.76,214.62 L277.91,216.76 L278.05,217.40 L278.20,220.36 L278.25,221.37 L278.30,223.91 L278.36,225.45 L278.41,228.37 L278.46,229.61 L278.51,232.76 L278.57,233.51 L278.62,236.55 L278.67,238.45 L278.72,239.49 L278.77,241.45 L278.83,244.23 L278.88,245.66 L278.93,247.77 L278.98,251.05 L279.03,251.63 L279.09,255.02 L279.14,256.74 L279.19,258.28 L279.24,260.24 L279.30,261.59 L279.35,264.93 L279.40,266.33 L279.54,268.33 L279.67,270.02 L279.81,271.86 L279.95,275.20 L280.08,277.37 L280.22,278.72 L280.36,280.96 L280.49,283.52 L280.63,285.77 L280.77,287.63 L280.91,289.12 L281.04,291.96 L281.18,293.85 L281.32,295.35 L281.45,296.90 L281.59,299.61 L281.73,301.51 L281.86,304.02 L282.00,306.61 L282.43,307.78 L282.85,310.29 L283.27,312.14 L283.70,314.68 L284.12,317.01 L284.55,317.98 L284.97,321.13 L285.40,322.93 L288.00,325.97 L290.00,326.05 L292.00,326.19 L294.00,326.25 L296.00,326.34 L298.00,326.42 L300.00,326.50 L302.14,326.30 L304.29,326.11 L306.43,325.85 L308.57,325.64 L310.71,325.33 L312.86,325.19 L315.00,325.03 L317.14,324.38 L319.29,323.97 L321.43,323.55 L323.57,322.53 L325.71,321.98 L327.86,322.07 L330.00,321.71 L331.97,319.81 L333.93,320.06 L335.90,319.15 L337.87,317.53 L339.83,316.22 L341.80,316.40 L343.79,314.86 L345.78,314.62 L347.77,312.71 L349.76,312.47 L351.75,311.03 L353.75,310.35 L355.74,310.43 L357.73,308.99 L359.72,308.45 L361.71,307.84 L363.70,307.72 L365.52,305.61 L367.33,305.68 L369.15,304.27 L370.97,302.73 L372.78,302.23 L374.60,301.36 L376.42,299.68 L378.23,299.97 L380.05,298.83 L381.87,296.55 L383.68,296.16 L385.50,294.66 L387.48,294.09 L389.46,294.53 L391.45,293.93 L393.43,293.16 L395.41,292.41 L397.39,292.68 L399.37,291.00 L401.35,291.28 L403.34,290.10 L405.32,289.64 L407.30,289.29 L409.38,289.87 L411.46,288.75 L413.54,288.93 L415.61,287.63 L417.69,288.03 L419.77,286.35 L421.85,286.58 L423.93,285.86 L426.01,285.09 L428.09,285.62 L430.16,284.63 L432.24,284.84 L434.32,283.54 L436.40,284.06 L438.49,282.99 L440.57,283.61 L442.66,284.10 L444.74,283.20 L446.83,282.89 L448.91,282.94 L451.00,283.63 L453.18,282.99 L455.36,283.20 L457.54,283.45 L459.72,283.94 L461.90,284.11 L464.08,284.36 L466.26,284.88 L468.44,284.33 L470.62,284.92 L472.80,285.21 L474.79,285.88 L476.78,285.48 L478.77,287.17 L480.76,286.58 L482.75,288.42 L484.75,288.53 L486.74,289.25 L488.73,288.98 L490.72,290.35 L492.71,290.89 L494.70,290.74 L496.68,291.67 L498.66,291.84 L500.65,292.51 L502.63,292.42 L504.61,293.22 L506.59,293.83 L508.57,294.36 L510.55,294.35 L512.54,294.85 L514.52,294.78 L516.50,294.73 L518.42,297.05 L520.33,296.70 L522.25,298.08 L524.17,299.92 L526.08,299.83 L528.00,301.34" fill="none" stroke="#008000" stroke-width="3.2" stroke-linejoin="round" stroke-linecap="butt" />
<path d="M65.00,327.50 L67.23,327.50 L69.46,327.50 L71.70,327.50 L73.93,327.50 L76.16,327.50 L78.39,327.50 L80.62,327.50 L82.86,327.50 L85.09,327.50 L87.32,327.50 L89.55,327.50 L91.79,327.50 L94.02,327.50 L96.25,327.50 L98.48,327.50 L100.71,327.50 L102.95,327.50 L105.18,327.50 L107.41,327.50 L109.64,327.50 L111.88,327.50 L114.11,327.50 L116.34,327.50 L118.57,327.50 L120.80,327.50 L123.04,327.50 L125.27,327.50 L127.50,327.50 L129.73,327.50 L131.96,327.50 L134.20,327.50 L136.43,327.50 L138.66,327.50 L140.89,327.50 L143.12,327.50 L145.36,327.50 L147.59,327.50 L149.82,327.50 L152.05,327.50 L154.29,327.50 L156.52,327.50 L158.75,327.50 L160.98,327.50 L163.21,327.50 L165.45,327.50 L167.68,327.50 L169.91,327.50 L172.14,327.50 L174.38,327.50 L176.61,327.50 L178.84,327.50 L181.07,327.50 L183.30,327.50 L185.54,327.50 L187.77,327.50 L190.00,327.50 L191.99,326.03 L193.81,324.65 L197.08,322.64 L200.10,322.41 L202.61,323.21 L205.08,324.81 L207.45,325.86 L210.00,327.50 L212.29,327.50 L214.57,327.50 L216.86,327.50 L219.14,327.50 L221.43,327.50 L223.71,327.50 L226.00,327.50 L229.68,325.91 L231.47,324.16 L232.78,322.85 L233.90,319.10 L234.04,317.39 L235.52,315.55 L236.22,311.78 L236.05,311.91 L237.59,308.50 L237.20,304.40 L238.35,302.39 L239.57,303.43 L239.36,298.18 L241.14,297.74 L241.92,293.86 L241.62,291.25 L243.47,288.81 L243.45,287.48 L244.27,285.35 L245.77,281.95 L245.01,283.95 L247.11,282.09 L247.09,279.82 L248.58,273.94 L248.99,275.05 L249.35,271.07 L249.24,267.82 L249.63,264.07 L250.70,262.88 L251.54,259.30 L252.18,260.34 L252.70,259.07 L253.15,255.08 L252.22,253.63 L252.85,248.89 L254.01,247.63 L253.99,247.36 L254.68,241.83 L254.48,242.11 L255.21,239.28 L255.39,233.81 L256.06,234.61 L255.90,232.05 L257.52,229.71 L257.79,223.13 L257.91,225.15 L257.27,219.86 L257.90,218.97 L258.44,216.48 L259.29,211.81 L258.42,210.24 L258.82,207.72 L260.47,209.59 L259.33,205.54 L259.99,202.35 L260.33,201.86 L260.99,198.16 L260.65,195.77 L260.82,194.74 L262.06,191.61 L261.33,188.34 L262.11,188.29 L263.07,184.86 L263.41,183.86 L263.13,180.29 L263.54,179.74 L263.73,177.43 L264.10,172.83 L264.53,172.91 L264.10,169.24 L264.97,169.34 L266.10,164.44 L266.65,164.48 L266.25,160.65 L266.64,160.33 L268.12,158.58 L268.94,155.31 L269.46,152.63 L269.07,150.63 L270.16,146.23 L272.64,143.63 L272.45,146.00 L274.61,148.50 L273.37,154.43 L273.66,156.93 L274.68,159.38 L275.26,160.53 L275.14,160.20 L275.23,165.16 L275.23,165.32 L275.36,171.89 L274.34,170.98 L275.23,175.86 L274.80,174.76 L274.89,179.29 L275.78,180.40 L275.24,182.68 L275.30,185.06 L274.95,187.75 L276.46,189.56 L276.26,190.47 L276.34,195.78 L276.48,196.75 L276.34,199.62 L277.17,199.27 L276.05,204.61 L277.53,205.62 L276.94,208.89 L276.70,208.76 L276.89,212.63 L277.24,213.01 L278.01,218.97 L277.54,219.90 L277.89,222.89 L278.34,222.06 L277.81,223.04 L278.29,227.16 L277.86,229.29 L278.16,233.69 L277.93,237.07 L278.53,237.28 L278.57,240.75 L279.19,241.56 L278.71,244.66 L279.37,245.24 L279.23,250.40 L278.87,248.85 L278.56,253.64 L279.32,257.14 L279.67,255.66 L278.66,258.00 L278.72,262.57 L279.85,265.83 L278.95,267.90 L279.10,267.85 L279.92,268.35 L279.05,274.49 L279.53,274.26 L280.14,278.17 L279.38,278.65 L280.22,281.69 L280.01,284.46 L281.35,285.70 L280.85,286.54 L280.57,291.64 L280.46,295.04 L281.89,293.19 L282.09,296.88 L281.98,301.12 L281.37,302.95 L282.09,305.88 L281.62,307.87 L283.22,309.81 L283.03,309.27 L283.45,312.88 L284.29,316.95 L284.53,316.73 L285.08,321.24 L285.18,323.98 L288.01,325.92 L290.43,326.04 L292.79,326.26 L295.20,326.32 L297.60,326.40 L300.00,326.50 L302.48,326.29 L305.03,326.01 L307.54,325.68 L309.95,325.42 L312.59,324.88 L315.00,324.75 L317.25,324.28 L319.20,323.78 L321.45,323.96 L323.47,323.70 L325.39,321.74 L327.48,320.65 L330.29,322.07 L331.96,318.39 L334.60,320.71 L337.59,319.75 L339.59,314.25 L341.64,313.47 L344.03,315.33 L345.70,312.14 L348.82,309.67 L351.05,315.07 L353.47,310.50 L355.02,311.08 L357.34,313.08 L359.62,307.28 L362.09,307.75 L363.86,308.65 L364.89,307.91 L367.92,304.81 L369.68,303.52 L371.14,302.96 L372.87,301.69 L375.82,300.21 L377.68,302.90 L380.18,295.84 L382.00,298.32 L382.80,295.34 L385.07,292.23 L387.74,297.85 L389.58,296.84 L392.35,290.90 L394.79,293.72 L397.08,293.97 L398.96,290.68 L401.25,294.38 L403.52,290.20 L405.53,289.97 L406.67,286.17 L408.86,286.87 L411.23,288.59 L414.33,288.43 L416.13,288.80 L418.18,287.01 L421.14,286.11 L422.46,289.28 L425.56,284.96 L427.24,285.70 L429.84,283.03 L431.13,282.47 L434.61,281.55 L436.34,281.48 L438.37,281.19 L441.11,281.05 L442.94,280.51 L445.60,283.16 L447.86,279.64 L450.92,282.33 L453.75,279.97 L455.69,282.71 L457.51,287.09 L460.24,280.98 L463.07,281.73 L465.73,283.28 L467.35,281.37 L470.74,283.23 L473.26,284.85 L475.68,284.24 L476.78,284.58 L479.87,287.81 L481.31,284.50 L484.04,291.47 L486.09,285.03 L487.38,286.25 L489.79,286.45 L491.80,291.53 L495.34,288.82 L497.64,291.26 L499.55,294.90 L501.94,288.90 L503.11,293.50 L506.31,290.15 L507.45,296.13 L509.34,293.21 L511.87,295.75 L515.01,292.50 L516.88,297.00 L519.34,296.85 L521.78,296.62 L523.26,296.81 L526.15,299.80 L527.63,298.70" fill="none" stroke="#008000" stroke-width="3.2" stroke-linejoin="round" stroke-linecap="butt" stroke-dasharray="4.5,2.5" transform="translate(-0.5,0)"/>
</g>
<line x1="65.00" y1="20.00" x2="65.00" y2="328.20" stroke="#000" stroke-width="2" />
<line x1="64.00" y1="327.20" x2="529.00" y2="327.20" stroke="#000" stroke-width="2" />
<line x1="59.50" y1="327.20" x2="65.00" y2="327.20" stroke="#000" stroke-width="2" />
<text x="45.62" y="334.00" font-size="19.00" fill="#000" font-weight="normal" font-style="normal">0</text>
<line x1="59.50" y1="265.88" x2="65.00" y2="265.88" stroke="#000" stroke-width="2" />
<text x="45.91" y="272.68" font-size="19.00" fill="#000" font-weight="normal" font-style="normal">2</text>
<line x1="59.50" y1="204.56" x2="65.00" y2="204.56" stroke="#000" stroke-width="2" />
<text x="45.52" y="211.36" font-size="19.00" fill="#000" font-weight="normal" font-style="normal">4</text>
<line x1="59.50" y1="143.24" x2="65.00" y2="143.24" stroke="#000" stroke-width="2" />
<text x="45.72" y="150.04" font-size="19.00" fill="#000" font-weight="normal" font-style="normal">6</text>
<line x1="59.50" y1="81.92" x2="65.00" y2="81.92" stroke="#000" stroke-width="2" />
<text x="45.72" y="88.72" font-size="19.00" fill="#000" font-weight="normal" font-style="normal">8</text>
<line x1="59.50" y1="20.60" x2="65.00" y2="20.60" stroke="#000" stroke-width="2" />
<text x="34.08" y="27.40" font-size="19.00" fill="#000" font-weight="normal" font-style="normal">10</text>
<line x1="65.00" y1="327.20" x2="65.00" y2="332.50" stroke="#000" stroke-width="2" />
<text x="59.44" y="351.80" font-size="19.00" fill="#000" font-weight="normal" font-style="normal">1</text>
<line x1="157.60" y1="327.20" x2="157.60" y2="332.50" stroke="#000" stroke-width="2" />
<text x="152.33" y="351.80" font-size="19.00" fill="#000" font-weight="normal" font-style="normal">2</text>
<line x1="250.20" y1="327.20" x2="250.20" y2="332.50" stroke="#000" stroke-width="2" />
<text x="244.93" y="351.80" font-size="19.00" fill="#000" font-weight="normal" font-style="normal">3</text>
<line x1="342.80" y1="327.20" x2="342.80" y2="332.50" stroke="#000" stroke-width="2" />
<text x="337.62" y="351.80" font-size="19.00" fill="#000" font-weight="normal" font-style="normal">4</text>
<line x1="435.40" y1="327.20" x2="435.40" y2="332.50" stroke="#000" stroke-width="2" />
<text x="430.13" y="351.80" font-size="19.00" fill="#000" font-weight="normal" font-style="normal">5</text>
<line x1="528.00" y1="327.20" x2="528.00" y2="332.50" stroke="#000" stroke-width="2" />
<text x="522.63" y="351.80" font-size="19.00" fill="#000" font-weight="normal" font-style="normal">6</text>
<text x="255.24" y="374.40" font-size="26.50" fill="#000" font-weight="normal" font-style="normal" textLength="61.69" lengthAdjust="spacingAndGlyphs">r (Å)</text>
<text transform="translate(21.30,203.40) rotate(-90)" x="-1.16" y="0" font-size="24.50" fill="#000" font-weight="normal" font-style="normal" textLength="16.07" lengthAdjust="spacingAndGlyphs">g</text>
<text transform="translate(21.30,187.60) rotate(-90)" x="-2.22" y="0" font-size="29.00" fill="#000" font-weight="normal" font-style="normal" textLength="12.32" lengthAdjust="spacingAndGlyphs">(</text>
<text transform="translate(21.30,176.90) rotate(-90)" x="-2.05" y="0" font-size="24.50" fill="#000" font-weight="normal" font-style="normal" textLength="10.52" lengthAdjust="spacingAndGlyphs">r</text>
<text transform="translate(21.30,167.60) rotate(-90)" x="-0.14" y="0" font-size="29.00" fill="#000" font-weight="normal" font-style="normal" textLength="9.30" lengthAdjust="spacingAndGlyphs">)</text>
<text x="77.13" y="83.60" font-size="18.76" fill="#ff0000" font-weight="normal" font-style="normal" textLength="38.85" lengthAdjust="spacingAndGlyphs">Si-O</text>
<text x="200.04" y="105.40" font-size="19.57" fill="#0000ff" font-weight="normal" font-style="normal" textLength="35.98" lengthAdjust="spacingAndGlyphs">O-O</text>
<text x="252.86" y="132.60" font-size="18.48" fill="#008000" font-weight="normal" font-style="normal" textLength="39.48" lengthAdjust="spacingAndGlyphs">Si-Si</text>
<text x="327.05" y="47.70" font-size="20.00" fill="#000" font-weight="normal" font-style="normal" textLength="32.42" lengthAdjust="spacingAndGlyphs">Sim</text>
<line x1="372.00" y1="40.00" x2="400.00" y2="40.00" stroke="#000" stroke-width="3" />
<text x="432.94" y="47.70" font-size="20.71" fill="#000" font-weight="normal" font-style="normal" textLength="32.37" lengthAdjust="spacingAndGlyphs">Gen</text>
<line x1="478.20" y1="40.00" x2="504.00" y2="40.00" stroke="#000" stroke-width="3" stroke-dasharray="4.6,2.5"/>
<path d="M302,91 C240,91 190,66 154.5,24.8" fill="none" stroke="#231f20" stroke-width="2.2"/>
<path d="M164.3,25.2 L154.2,23.9 L153.9,33.4" fill="none" stroke="#231f20" stroke-width="2.2" stroke-linejoin="miter"/>
<rect x="304.5" y="78.75" width="223" height="157.5" rx="7" ry="7" fill="#f2f2f2" stroke="#3a3a3a" stroke-width="1.3"/>
<path d="M370.75,208.00 L385.00,123.25 L420.50,102.00 L441.75,208.00" fill="none" stroke="#ff0000" stroke-width="2.2" stroke-linejoin="round" stroke-linecap="butt" />
<path d="M373.75,208.00 L385.00,150.00 L420.50,132.50 L437.50,208.00" fill="none" stroke="#ff0000" stroke-width="2.2" stroke-linejoin="round" stroke-linecap="butt" stroke-dasharray="5,3" />
<line x1="332.00" y1="91.50" x2="332.00" y2="208.70" stroke="#000" stroke-width="1.6" />
<line x1="331.50" y1="208.00" x2="508.50" y2="208.00" stroke="#000" stroke-width="1.6" />
<line x1="328.00" y1="92.00" x2="332.00" y2="92.00" stroke="#000" stroke-width="1.4" />
<text x="309.61" y="97.20" font-size="14.50" fill="#000" font-weight="normal" font-style="normal">40</text>
<line x1="328.00" y1="150.50" x2="332.00" y2="150.50" stroke="#000" stroke-width="1.4" />
<text x="309.69" y="155.70" font-size="14.50" fill="#000" font-weight="normal" font-style="normal">35</text>
<line x1="328.00" y1="208.00" x2="332.00" y2="208.00" stroke="#000" stroke-width="1.4" />
<text x="309.61" y="213.20" font-size="14.50" fill="#000" font-weight="normal" font-style="normal">30</text>
<line x1="332.00" y1="208.00" x2="332.00" y2="212.00" stroke="#000" stroke-width="1.4" />
<text x="317.61" y="227.50" font-size="14.50" fill="#000" font-weight="normal" font-style="normal">1.60</text>
<line x1="420.25" y1="208.00" x2="420.25" y2="212.00" stroke="#000" stroke-width="1.4" />
<text x="405.89" y="227.50" font-size="14.50" fill="#000" font-weight="normal" font-style="normal">1.65</text>
<line x1="508.00" y1="208.00" x2="508.00" y2="212.00" stroke="#000" stroke-width="1.4" />
<text x="493.61" y="227.50" font-size="14.50" fill="#000" font-weight="normal" font-style="normal">1.70</text>
<text x="337.92" y="98.50" font-size="19.00" fill="#000" font-weight="normal" font-style="normal" textLength="32.18" lengthAdjust="spacingAndGlyphs">g(r)</text>
<text x="342.14" y="142.00" font-size="20.69" fill="#ff0000" font-weight="normal" font-style="normal" textLength="38.32" lengthAdjust="spacingAndGlyphs">Si-O</text>
<text x="469.34" y="202.50" font-size="20.00" fill="#000" font-weight="normal" font-style="normal" textLength="42.04" lengthAdjust="spacingAndGlyphs">r (Å)</text>
<text x="562.39" y="31.40" font-size="41.52" fill="#231f20" font-weight="bold" font-style="normal" textLength="27.34" lengthAdjust="spacingAndGlyphs">b</text>
<path d="M603.00,167.20 C609.17,167.17 632.83,167.20 640.00,167.00 C647.17,166.80 644.00,167.50 646.00,166.00 C648.00,164.50 650.00,161.00 652.00,158.00 C654.00,155.00 656.50,151.50 658.00,148.00 C659.50,144.50 659.83,142.38 661.00,137.00 C662.17,131.62 663.67,122.87 665.00,115.70 C666.33,108.53 667.67,101.28 669.00,94.00 C670.33,86.72 671.83,78.38 673.00,72.00 C674.17,65.62 675.17,60.20 676.00,55.70 C676.83,51.20 677.33,47.85 678.00,45.00 C678.67,42.15 679.00,38.60 680.00,38.60 C681.00,38.60 682.83,42.87 684.00,45.00 C685.17,47.13 686.00,48.23 687.00,51.40 C688.00,54.57 688.83,59.40 690.00,64.00 C691.17,68.60 692.67,74.17 694.00,79.00 C695.33,83.83 696.67,88.17 698.00,93.00 C699.33,97.83 700.67,103.33 702.00,108.00 C703.33,112.67 704.67,116.67 706.00,121.00 C707.33,125.33 708.83,130.67 710.00,134.00 C711.17,137.33 712.00,138.83 713.00,141.00 C714.00,143.17 714.83,145.00 716.00,147.00 C717.17,149.00 718.17,150.90 720.00,153.00 C721.83,155.10 724.17,157.77 727.00,159.60 C729.83,161.43 733.17,162.88 737.00,164.00 C740.83,165.12 742.83,165.80 750.00,166.30 C757.17,166.80 759.00,166.85 780.00,167.00 C801.00,167.15 860.00,167.17 876.00,167.20" fill="none" stroke="#0000ff" stroke-width="4" stroke-linejoin="round" />
<path d="M603.00,166.80 C605.00,166.72 611.33,166.50 615.00,166.30 C618.67,166.10 622.17,165.67 625.00,165.60 C627.83,165.53 629.50,165.93 632.00,165.90 C634.50,165.87 637.83,165.88 640.00,165.40 C642.17,164.92 643.33,164.23 645.00,163.00 C646.67,161.77 648.33,160.17 650.00,158.00 C651.67,155.83 653.33,153.48 655.00,150.00 C656.67,146.52 658.50,142.82 660.00,137.10 C661.50,131.38 662.67,122.83 664.00,115.70 C665.33,108.57 666.67,100.73 668.00,94.30 C669.33,87.87 670.67,82.47 672.00,77.10 C673.33,71.73 674.83,65.85 676.00,62.10 C677.17,58.35 677.92,56.38 679.00,54.60 C680.08,52.82 681.33,50.85 682.50,51.40 C683.67,51.95 684.75,55.40 686.00,57.90 C687.25,60.40 688.67,62.48 690.00,66.40 C691.33,70.32 692.67,76.75 694.00,81.40 C695.33,86.05 696.67,89.65 698.00,94.30 C699.33,98.95 700.67,104.67 702.00,109.30 C703.33,113.93 704.67,117.82 706.00,122.10 C707.33,126.38 708.83,131.85 710.00,135.00 C711.17,138.15 712.17,139.22 713.00,141.00 C713.83,142.78 714.33,144.78 715.00,145.70 C715.67,146.62 716.33,145.95 717.00,146.50 C717.67,147.05 718.17,147.58 719.00,149.00 C719.83,150.42 720.67,153.23 722.00,155.00 C723.33,156.77 724.50,158.12 727.00,159.60 C729.50,161.08 733.17,162.83 737.00,163.90 C740.83,164.97 742.83,165.52 750.00,166.00 C757.17,166.48 759.00,166.63 780.00,166.80 C801.00,166.97 860.00,166.97 876.00,167.00" fill="none" stroke="#ff0000" stroke-width="4" stroke-linejoin="round" />
<path d="M606.00,324.50 L650.00,324.50 L680.00,324.00 L688.00,323.50 L690.00,321.00 L702.00,323.00 L710.00,321.00 L716.00,317.00 L720.00,313.00 L726.00,309.00 L730.00,301.00 L734.00,295.00 L738.00,287.00 L742.00,285.00 L746.00,277.00 L750.00,271.00 L753.00,265.00 L755.00,252.00 L757.00,249.00 L760.00,253.00 L762.00,247.00 L765.00,237.00 L767.00,235.00 L770.00,239.00 L773.00,227.00 L775.00,235.00 L778.00,231.00 L782.00,227.00 L786.00,225.00 L790.00,219.00 L792.00,217.00 L794.00,221.00 L797.00,221.00 L799.00,215.00 L801.00,205.00 L803.00,219.00 L805.00,223.00 L807.00,219.00 L810.00,225.00 L813.00,228.00 L816.00,229.00 L819.00,230.00 L822.00,226.00 L825.00,231.00 L828.00,235.00 L830.00,230.00 L832.00,235.00 L834.00,242.00 L837.00,249.00 L840.00,256.00 L844.00,261.00 L848.00,271.00 L850.00,267.00 L852.00,275.00 L854.00,283.00 L857.00,287.00 L860.00,295.00 L863.00,303.00 L866.00,309.00 L869.00,315.00 L872.00,319.00 L875.00,322.00" fill="none" stroke="#0000ff" stroke-width="4" stroke-linejoin="round" stroke-linecap="butt" />
<path d="M606.00,324.00 L620.00,323.50 L630.00,322.00 L638.00,320.00 L645.00,322.50 L660.00,323.50 L675.00,323.00 L685.00,322.00 L690.00,319.00 L700.00,321.00 L706.00,315.00 L714.00,313.00 L720.00,309.00 L726.00,305.00 L730.00,297.00 L732.00,291.00 L736.00,286.00 L742.00,280.00 L746.00,276.00 L748.00,271.00 L750.00,261.00 L753.00,257.00 L756.00,260.00 L759.00,255.00 L761.00,249.00 L764.00,245.00 L768.00,243.00 L771.00,240.00 L774.00,243.00 L776.00,237.00 L779.00,238.00 L782.00,229.00 L784.00,223.00 L786.00,222.00 L788.00,225.00 L790.00,215.00 L792.00,221.00 L793.60,235.00 L796.00,225.00 L798.00,222.00 L800.00,235.00 L802.00,233.00 L805.00,230.00 L808.00,233.00 L811.00,227.00 L813.00,233.00 L815.00,232.00 L817.00,235.00 L819.00,230.00 L820.40,246.00 L822.00,235.00 L824.00,232.00 L826.00,241.00 L829.00,241.00 L831.00,239.00 L833.00,251.00 L836.00,254.00 L839.00,259.00 L843.00,264.00 L847.00,268.00 L850.00,272.00 L853.00,275.00 L856.00,283.00 L859.00,289.00 L862.00,297.00 L865.00,307.00 L868.00,313.00 L871.00,316.00 L874.00,321.00" fill="none" stroke="#ff0000" stroke-width="4" stroke-linejoin="round" stroke-linecap="butt" />
<line x1="601.30" y1="167.50" x2="876.60" y2="167.50" stroke="#000" stroke-width="2" />
<line x1="606.20" y1="167.50" x2="606.20" y2="176.50" stroke="#000" stroke-width="2" />
<line x1="660.10" y1="167.50" x2="660.10" y2="176.50" stroke="#000" stroke-width="2" />
<line x1="714.00" y1="167.50" x2="714.00" y2="176.50" stroke="#000" stroke-width="2" />
<line x1="767.90" y1="167.50" x2="767.90" y2="176.50" stroke="#000" stroke-width="2" />
<line x1="821.80" y1="167.50" x2="821.80" y2="176.50" stroke="#000" stroke-width="2" />
<line x1="875.70" y1="167.50" x2="875.70" y2="176.50" stroke="#000" stroke-width="2" />
<line x1="601.30" y1="324.60" x2="876.60" y2="324.60" stroke="#000" stroke-width="2" />
<line x1="606.20" y1="324.60" x2="606.20" y2="333.40" stroke="#000" stroke-width="2" />
<line x1="660.10" y1="324.60" x2="660.10" y2="333.40" stroke="#000" stroke-width="2" />
<line x1="714.00" y1="324.60" x2="714.00" y2="333.40" stroke="#000" stroke-width="2" />
<line x1="767.90" y1="324.60" x2="767.90" y2="333.40" stroke="#000" stroke-width="2" />
<line x1="821.80" y1="324.60" x2="821.80" y2="333.40" stroke="#000" stroke-width="2" />
<line x1="875.70" y1="324.60" x2="875.70" y2="333.40" stroke="#000" stroke-width="2" />
<text x="595.16" y="358.00" font-size="19.00" fill="#000" font-weight="normal" font-style="normal">80</text>
<text x="859.40" y="358.00" font-size="19.00" fill="#000" font-weight="normal" font-style="normal">180</text>
<text x="687.60" y="378.00" font-size="27.17" fill="#000" font-weight="normal" font-style="normal" textLength="107.90" lengthAdjust="spacingAndGlyphs">Angle (°)</text>
<text transform="translate(583.20,223.60) rotate(-90)" x="-2.14" y="0" font-size="26.00" fill="#000" font-weight="normal" font-style="normal" textLength="89.13" lengthAdjust="spacingAndGlyphs">Density</text>
<text x="790.80" y="51.40" font-size="24.83" fill="#000" font-weight="normal" font-style="normal" textLength="82.92" lengthAdjust="spacingAndGlyphs">O-Si-O</text>
<text x="607.79" y="229.70" font-size="25.93" fill="#000" font-weight="normal" font-style="normal" textLength="86.62" lengthAdjust="spacingAndGlyphs">Si-O-Si</text>
<line x1="808.20" y1="85.60" x2="828.00" y2="85.60" stroke="#0000ff" stroke-width="4" />
<line x1="808.20" y1="111.80" x2="828.00" y2="111.80" stroke="#ff0000" stroke-width="4" />
<text x="840.70" y="91.30" font-size="21.38" fill="#000" font-weight="normal" font-style="normal" textLength="34.34" lengthAdjust="spacingAndGlyphs">Sim</text>
<text x="840.67" y="118.00" font-size="21.71" fill="#000" font-weight="normal" font-style="normal" textLength="35.03" lengthAdjust="spacingAndGlyphs">Gen</text>
<text x="935.00" y="32.20" font-size="38.15" fill="#231f20" font-weight="bold" font-style="normal" textLength="23.62" lengthAdjust="spacingAndGlyphs">c</text>
<rect x="1020.70" y="319.90" width="17.10" height="7.60" fill="#3333ff" stroke="none" stroke-width="0" />
<rect x="1037.80" y="321.20" width="17.10" height="6.30" fill="#ff3333" stroke="none" stroke-width="0" />
<rect x="1069.60" y="258.50" width="17.10" height="69.00" fill="#3333ff" stroke="none" stroke-width="0" />
<rect x="1086.70" y="278.30" width="17.10" height="49.20" fill="#ff3333" stroke="none" stroke-width="0" />
<rect x="1118.50" y="139.40" width="17.10" height="188.10" fill="#3333ff" stroke="none" stroke-width="0" />
<rect x="1135.60" y="144.00" width="17.10" height="183.50" fill="#ff3333" stroke="none" stroke-width="0" />
<rect x="1167.40" y="93.40" width="17.10" height="234.10" fill="#3333ff" stroke="none" stroke-width="0" />
<rect x="1184.50" y="52.20" width="17.10" height="275.30" fill="#ff3333" stroke="none" stroke-width="0" />
<rect x="1216.30" y="90.50" width="17.10" height="237.00" fill="#3333ff" stroke="none" stroke-width="0" />
<rect x="1233.40" y="77.90" width="17.10" height="249.60" fill="#ff3333" stroke="none" stroke-width="0" />
<rect x="1265.20" y="187.00" width="17.10" height="140.50" fill="#3333ff" stroke="none" stroke-width="0" />
<rect x="1282.30" y="204.20" width="17.10" height="123.30" fill="#ff3333" stroke="none" stroke-width="0" />
<rect x="1314.10" y="263.10" width="17.10" height="64.40" fill="#3333ff" stroke="none" stroke-width="0" />
<rect x="1331.20" y="270.60" width="17.10" height="56.90" fill="#ff3333" stroke="none" stroke-width="0" />
<rect x="1363.00" y="309.90" width="17.10" height="17.60" fill="#3333ff" stroke="none" stroke-width="0" />
<rect x="1380.10" y="313.80" width="17.10" height="13.70" fill="#ff3333" stroke="none" stroke-width="0" />
<rect x="1411.90" y="321.90" width="17.10" height="5.60" fill="#3333ff" stroke="none" stroke-width="0" />
<rect x="1429.00" y="324.30" width="17.10" height="3.20" fill="#ff3333" stroke="none" stroke-width="0" />
<line x1="1029.25" y1="318.90" x2="1029.25" y2="321.40" stroke="#000" stroke-width="1.8" />
<line x1="1025.25" y1="318.90" x2="1033.25" y2="318.90" stroke="#000" stroke-width="1.7" />
<line x1="1025.25" y1="321.40" x2="1033.25" y2="321.40" stroke="#000" stroke-width="1.7" />
<line x1="1046.35" y1="318.90" x2="1046.35" y2="323.50" stroke="#000" stroke-width="1.8" />
<line x1="1042.35" y1="318.90" x2="1050.35" y2="318.90" stroke="#000" stroke-width="1.7" />
<line x1="1042.35" y1="323.50" x2="1050.35" y2="323.50" stroke="#000" stroke-width="1.7" />
<line x1="1078.15" y1="255.60" x2="1078.15" y2="261.50" stroke="#000" stroke-width="1.8" />
<line x1="1074.15" y1="255.60" x2="1082.15" y2="255.60" stroke="#000" stroke-width="1.7" />
<line x1="1074.15" y1="261.50" x2="1082.15" y2="261.50" stroke="#000" stroke-width="1.7" />
<line x1="1095.25" y1="276.20" x2="1095.25" y2="280.30" stroke="#000" stroke-width="1.8" />
<line x1="1091.25" y1="276.20" x2="1099.25" y2="276.20" stroke="#000" stroke-width="1.7" />
<line x1="1091.25" y1="280.30" x2="1099.25" y2="280.30" stroke="#000" stroke-width="1.7" />
<line x1="1127.05" y1="129.90" x2="1127.05" y2="149.20" stroke="#000" stroke-width="1.8" />
<line x1="1123.05" y1="129.90" x2="1131.05" y2="129.90" stroke="#000" stroke-width="1.7" />
<line x1="1123.05" y1="149.20" x2="1131.05" y2="149.20" stroke="#000" stroke-width="1.7" />
<line x1="1144.15" y1="140.20" x2="1144.15" y2="147.10" stroke="#000" stroke-width="1.8" />
<line x1="1140.15" y1="140.20" x2="1148.15" y2="140.20" stroke="#000" stroke-width="1.7" />
<line x1="1140.15" y1="147.10" x2="1148.15" y2="147.10" stroke="#000" stroke-width="1.7" />
<line x1="1175.95" y1="82.80" x2="1175.95" y2="104.20" stroke="#000" stroke-width="1.8" />
<line x1="1171.95" y1="82.80" x2="1179.95" y2="82.80" stroke="#000" stroke-width="1.7" />
<line x1="1171.95" y1="104.20" x2="1179.95" y2="104.20" stroke="#000" stroke-width="1.7" />
<line x1="1193.05" y1="46.30" x2="1193.05" y2="58.60" stroke="#000" stroke-width="1.8" />
<line x1="1189.05" y1="46.30" x2="1197.05" y2="46.30" stroke="#000" stroke-width="1.7" />
<line x1="1189.05" y1="58.60" x2="1197.05" y2="58.60" stroke="#000" stroke-width="1.7" />
<line x1="1224.85" y1="77.20" x2="1224.85" y2="104.70" stroke="#000" stroke-width="1.8" />
<line x1="1220.85" y1="77.20" x2="1228.85" y2="77.20" stroke="#000" stroke-width="1.7" />
<line x1="1220.85" y1="104.70" x2="1228.85" y2="104.70" stroke="#000" stroke-width="1.7" />
<line x1="1241.95" y1="68.90" x2="1241.95" y2="87.40" stroke="#000" stroke-width="1.8" />
<line x1="1237.95" y1="68.90" x2="1245.95" y2="68.90" stroke="#000" stroke-width="1.7" />
<line x1="1237.95" y1="87.40" x2="1245.95" y2="87.40" stroke="#000" stroke-width="1.7" />
<line x1="1273.75" y1="169.80" x2="1273.75" y2="204.20" stroke="#000" stroke-width="1.8" />
<line x1="1269.75" y1="169.80" x2="1277.75" y2="169.80" stroke="#000" stroke-width="1.7" />
<line x1="1269.75" y1="204.20" x2="1277.75" y2="204.20" stroke="#000" stroke-width="1.7" />
<line x1="1290.85" y1="192.60" x2="1290.85" y2="216.00" stroke="#000" stroke-width="1.8" />
<line x1="1286.85" y1="192.60" x2="1294.85" y2="192.60" stroke="#000" stroke-width="1.7" />
<line x1="1286.85" y1="216.00" x2="1294.85" y2="216.00" stroke="#000" stroke-width="1.7" />
<line x1="1322.65" y1="256.50" x2="1322.65" y2="269.40" stroke="#000" stroke-width="1.8" />
<line x1="1318.65" y1="256.50" x2="1326.65" y2="256.50" stroke="#000" stroke-width="1.7" />
<line x1="1318.65" y1="269.40" x2="1326.65" y2="269.40" stroke="#000" stroke-width="1.7" />
<line x1="1339.75" y1="264.60" x2="1339.75" y2="276.60" stroke="#000" stroke-width="1.8" />
<line x1="1335.75" y1="264.60" x2="1343.75" y2="264.60" stroke="#000" stroke-width="1.7" />
<line x1="1335.75" y1="276.60" x2="1343.75" y2="276.60" stroke="#000" stroke-width="1.7" />
<line x1="1371.55" y1="304.50" x2="1371.55" y2="315.60" stroke="#000" stroke-width="1.8" />
<line x1="1367.55" y1="304.50" x2="1375.55" y2="304.50" stroke="#000" stroke-width="1.7" />
<line x1="1367.55" y1="315.60" x2="1375.55" y2="315.60" stroke="#000" stroke-width="1.7" />
<line x1="1388.65" y1="308.40" x2="1388.65" y2="318.90" stroke="#000" stroke-width="1.8" />
<line x1="1384.65" y1="308.40" x2="1392.65" y2="308.40" stroke="#000" stroke-width="1.7" />
<line x1="1384.65" y1="318.90" x2="1392.65" y2="318.90" stroke="#000" stroke-width="1.7" />
<line x1="1420.45" y1="319.20" x2="1420.45" y2="325.50" stroke="#000" stroke-width="1.8" />
<line x1="1416.45" y1="319.20" x2="1424.45" y2="319.20" stroke="#000" stroke-width="1.7" />
<line x1="1416.45" y1="325.50" x2="1424.45" y2="325.50" stroke="#000" stroke-width="1.7" />
<line x1="1437.55" y1="322.20" x2="1437.55" y2="326.40" stroke="#000" stroke-width="1.8" />
<line x1="1433.55" y1="322.20" x2="1441.55" y2="322.20" stroke="#000" stroke-width="1.7" />
<line x1="1433.55" y1="326.40" x2="1441.55" y2="326.40" stroke="#000" stroke-width="1.7" />
<line x1="999.70" y1="38.00" x2="999.70" y2="328.50" stroke="#000" stroke-width="2" />
<line x1="998.70" y1="327.50" x2="1468.00" y2="327.50" stroke="#000" stroke-width="2" />
<line x1="994.00" y1="327.50" x2="999.70" y2="327.50" stroke="#000" stroke-width="2" />
<text x="980.62" y="334.10" font-size="19.00" fill="#000" font-weight="normal" font-style="normal">0</text>
<line x1="994.00" y1="231.20" x2="999.70" y2="231.20" stroke="#000" stroke-width="2" />
<text x="970.08" y="237.80" font-size="19.00" fill="#000" font-weight="normal" font-style="normal">10</text>
<line x1="994.00" y1="134.90" x2="999.70" y2="134.90" stroke="#000" stroke-width="2" />
<text x="970.08" y="141.50" font-size="19.00" fill="#000" font-weight="normal" font-style="normal">20</text>
<line x1="994.00" y1="38.60" x2="999.70" y2="38.60" stroke="#000" stroke-width="2" />
<text x="970.08" y="45.20" font-size="19.00" fill="#000" font-weight="normal" font-style="normal">30</text>
<line x1="1037.80" y1="327.50" x2="1037.80" y2="333.00" stroke="#000" stroke-width="2" />
<text x="1032.39" y="350.60" font-size="19.50" fill="#000" font-weight="normal" font-style="normal">3</text>
<line x1="1086.70" y1="327.50" x2="1086.70" y2="333.00" stroke="#000" stroke-width="2" />
<text x="1081.39" y="350.60" font-size="19.50" fill="#000" font-weight="normal" font-style="normal">4</text>
<line x1="1135.60" y1="327.50" x2="1135.60" y2="333.00" stroke="#000" stroke-width="2" />
<text x="1130.19" y="350.60" font-size="19.50" fill="#000" font-weight="normal" font-style="normal">5</text>
<line x1="1184.50" y1="327.50" x2="1184.50" y2="333.00" stroke="#000" stroke-width="2" />
<text x="1178.99" y="350.60" font-size="19.50" fill="#000" font-weight="normal" font-style="normal">6</text>
<line x1="1233.40" y1="327.50" x2="1233.40" y2="333.00" stroke="#000" stroke-width="2" />
<text x="1227.99" y="350.60" font-size="19.50" fill="#000" font-weight="normal" font-style="normal">7</text>
<line x1="1282.30" y1="327.50" x2="1282.30" y2="333.00" stroke="#000" stroke-width="2" />
<text x="1276.84" y="350.60" font-size="19.50" fill="#000" font-weight="normal" font-style="normal">8</text>
<line x1="1331.20" y1="327.50" x2="1331.20" y2="333.00" stroke="#000" stroke-width="2" />
<text x="1325.79" y="350.60" font-size="19.50" fill="#000" font-weight="normal" font-style="normal">9</text>
<line x1="1380.10" y1="327.50" x2="1380.10" y2="333.00" stroke="#000" stroke-width="2" />
<text x="1368.89" y="350.60" font-size="19.50" fill="#000" font-weight="normal" font-style="normal">10</text>
<line x1="1429.00" y1="327.50" x2="1429.00" y2="333.00" stroke="#000" stroke-width="2" />
<text x="1418.62" y="350.60" font-size="19.50" fill="#000" font-weight="normal" font-style="normal">11</text>
<text x="1180.34" y="378.70" font-size="26.48" fill="#000" font-weight="normal" font-style="normal" textLength="105.07" lengthAdjust="spacingAndGlyphs">Ring Size</text>
<text transform="translate(958.80,261.00) rotate(-90)" x="-2.04" y="0" font-size="26.00" fill="#000" font-weight="normal" font-style="normal" textLength="166.94" lengthAdjust="spacingAndGlyphs">Frequency (%)</text>
<rect x="1328.20" y="54.80" width="22.60" height="15.20" fill="#3333ff" stroke="none" stroke-width="0" />
<rect x="1328.20" y="88.80" width="22.60" height="15.20" fill="#ff3333" stroke="none" stroke-width="0" />
<text x="1367.31" y="70.00" font-size="20.97" fill="#3333ff" font-weight="normal" font-style="normal" textLength="88.43" lengthAdjust="spacingAndGlyphs">Simulated</text>
<text x="1367.24" y="104.00" font-size="20.00" fill="#ff3333" font-weight="normal" font-style="normal" textLength="90.41" lengthAdjust="spacingAndGlyphs">Generated</text>
<line x1="1338.10" y1="122.30" x2="1338.10" y2="146.00" stroke="#000" stroke-width="2" />
<line x1="1333.80" y1="122.30" x2="1342.40" y2="122.30" stroke="#000" stroke-width="1.8" />
<line x1="1333.80" y1="146.00" x2="1342.40" y2="146.00" stroke="#000" stroke-width="1.8" />
<text x="1370.56" y="144.60" font-size="23.50" fill="#000" font-weight="normal" font-style="normal" textLength="80.92" lengthAdjust="spacingAndGlyphs">std of 6</text>
<text x="1370.65" y="173.90" font-size="23.00" fill="#000" font-weight="normal" font-style="normal" textLength="80.88" lengthAdjust="spacingAndGlyphs">samples</text>
<text x="-0.27" y="427.30" font-size="44.41" fill="#231f20" font-weight="bold" font-style="normal" textLength="26.97" lengthAdjust="spacingAndGlyphs">d</text>
<line x1="60.40" y1="459.50" x2="60.40" y2="668.20" stroke="#000" stroke-width="2.2" />
<line x1="49.40" y1="460.50" x2="60.40" y2="460.50" stroke="#000" stroke-width="2.2" />
<text x="23.97" y="467.40" font-size="19.00" fill="#000" font-weight="normal" font-style="normal">70</text>
<line x1="49.40" y1="563.80" x2="60.40" y2="563.80" stroke="#000" stroke-width="2.2" />
<text x="23.97" y="570.70" font-size="19.00" fill="#000" font-weight="normal" font-style="normal">60</text>
<line x1="49.40" y1="667.20" x2="60.40" y2="667.20" stroke="#000" stroke-width="2.2" />
<text x="23.97" y="674.10" font-size="19.00" fill="#000" font-weight="normal" font-style="normal">50</text>
<rect x="78.15" y="542.50" width="29.30" height="40.50" fill="none" stroke="#0000ff" stroke-width="2.2" />
<line x1="92.80" y1="542.50" x2="92.80" y2="512.00" stroke="#0000ff" stroke-width="2.2" />
<line x1="92.80" y1="583.00" x2="92.80" y2="596.20" stroke="#0000ff" stroke-width="2.2" />
<line x1="83.35" y1="512.00" x2="102.25" y2="512.00" stroke="#0000ff" stroke-width="2.2" />
<line x1="83.35" y1="596.20" x2="102.25" y2="596.20" stroke="#0000ff" stroke-width="2.2" />
<line x1="78.15" y1="554.80" x2="107.45" y2="554.80" stroke="#0000ff" stroke-width="4.3" />
<rect x="128.40" y="565.60" width="29.40" height="36.90" fill="none" stroke="#ff0000" stroke-width="2.2" />
<line x1="143.10" y1="565.60" x2="143.10" y2="547.30" stroke="#ff0000" stroke-width="2.2" />
<line x1="143.10" y1="602.50" x2="143.10" y2="610.90" stroke="#ff0000" stroke-width="2.2" />
<line x1="133.65" y1="547.30" x2="152.55" y2="547.30" stroke="#ff0000" stroke-width="2.2" />
<line x1="133.65" y1="610.90" x2="152.55" y2="610.90" stroke="#ff0000" stroke-width="2.2" />
<line x1="128.40" y1="583.30" x2="157.80" y2="583.30" stroke="#ff0000" stroke-width="4.3" />
<text x="79.03" y="502.40" font-size="17.79" fill="#0000ff" font-weight="normal" font-style="normal" textLength="33.17" lengthAdjust="spacingAndGlyphs">Sim</text>
<text x="126.91" y="536.50" font-size="18.71" fill="#ff0000" font-weight="normal" font-style="normal" textLength="33.54" lengthAdjust="spacingAndGlyphs">Gen</text>
<text x="64.63" y="435.00" font-size="27.45" fill="#000" font-weight="normal" font-style="normal" textLength="102.32" lengthAdjust="spacingAndGlyphs">K (GPa)</text>
<line x1="233.50" y1="459.70" x2="233.50" y2="668.10" stroke="#000" stroke-width="2.2" />
<line x1="222.50" y1="460.70" x2="233.50" y2="460.70" stroke="#000" stroke-width="2.2" />
<text x="197.37" y="467.60" font-size="19.00" fill="#000" font-weight="normal" font-style="normal">46</text>
<line x1="222.50" y1="564.30" x2="233.50" y2="564.30" stroke="#000" stroke-width="2.2" />
<text x="197.37" y="571.20" font-size="19.00" fill="#000" font-weight="normal" font-style="normal">38</text>
<line x1="222.50" y1="667.10" x2="233.50" y2="667.10" stroke="#000" stroke-width="2.2" />
<text x="197.27" y="674.00" font-size="19.00" fill="#000" font-weight="normal" font-style="normal">30</text>
<rect x="258.00" y="549.30" width="28.20" height="53.10" fill="none" stroke="#0000ff" stroke-width="2.2" />
<line x1="272.10" y1="549.30" x2="272.10" y2="532.60" stroke="#0000ff" stroke-width="2.2" />
<line x1="272.10" y1="602.40" x2="272.10" y2="616.10" stroke="#0000ff" stroke-width="2.2" />
<line x1="263.10" y1="532.60" x2="281.10" y2="532.60" stroke="#0000ff" stroke-width="2.2" />
<line x1="263.10" y1="616.10" x2="281.10" y2="616.10" stroke="#0000ff" stroke-width="2.2" />
<line x1="258.00" y1="565.60" x2="286.20" y2="565.60" stroke="#0000ff" stroke-width="4.3" />
<rect x="309.30" y="549.30" width="28.30" height="34.30" fill="none" stroke="#ff0000" stroke-width="2.2" />
<line x1="323.45" y1="549.30" x2="323.45" y2="542.00" stroke="#ff0000" stroke-width="2.2" />
<line x1="323.45" y1="583.60" x2="323.45" y2="620.40" stroke="#ff0000" stroke-width="2.2" />
<line x1="314.45" y1="542.00" x2="332.45" y2="542.00" stroke="#ff0000" stroke-width="2.2" />
<line x1="314.45" y1="620.40" x2="332.45" y2="620.40" stroke="#ff0000" stroke-width="2.2" />
<line x1="309.30" y1="565.60" x2="337.60" y2="565.60" stroke="#ff0000" stroke-width="4.3" />
<text x="256.14" y="521.90" font-size="19.45" fill="#0000ff" font-weight="normal" font-style="normal" textLength="33.06" lengthAdjust="spacingAndGlyphs">Sim</text>
<text x="305.91" y="533.50" font-size="20.14" fill="#ff0000" font-weight="normal" font-style="normal" textLength="33.76" lengthAdjust="spacingAndGlyphs">Gen</text>
<text x="249.34" y="437.10" font-size="26.62" fill="#000" font-weight="normal" font-style="normal" textLength="101.58" lengthAdjust="spacingAndGlyphs">G (GPa)</text>
<line x1="433.40" y1="458.80" x2="433.40" y2="668.50" stroke="#000" stroke-width="2.2" />
<line x1="422.40" y1="459.80" x2="433.40" y2="459.80" stroke="#000" stroke-width="2.2" />
<text x="386.53" y="466.70" font-size="19.00" fill="#000" font-weight="normal" font-style="normal">100</text>
<line x1="422.40" y1="564.30" x2="433.40" y2="564.30" stroke="#000" stroke-width="2.2" />
<text x="397.07" y="571.20" font-size="19.00" fill="#000" font-weight="normal" font-style="normal">90</text>
<line x1="422.40" y1="667.50" x2="433.40" y2="667.50" stroke="#000" stroke-width="2.2" />
<text x="397.07" y="674.40" font-size="19.00" fill="#000" font-weight="normal" font-style="normal">80</text>
<rect x="451.40" y="506.10" width="26.50" height="74.10" fill="none" stroke="#0000ff" stroke-width="2.2" />
<line x1="464.65" y1="506.10" x2="464.65" y2="470.50" stroke="#0000ff" stroke-width="2.2" />
<line x1="464.65" y1="580.20" x2="464.65" y2="601.10" stroke="#0000ff" stroke-width="2.2" />
<line x1="455.65" y1="470.50" x2="473.65" y2="470.50" stroke="#0000ff" stroke-width="2.2" />
<line x1="455.65" y1="601.10" x2="473.65" y2="601.10" stroke="#0000ff" stroke-width="2.2" />
<line x1="451.40" y1="524.90" x2="477.90" y2="524.90" stroke="#0000ff" stroke-width="4.3" />
<rect x="499.30" y="506.10" width="26.60" height="44.90" fill="none" stroke="#ff0000" stroke-width="2.2" />
<line x1="512.60" y1="506.10" x2="512.60" y2="499.60" stroke="#ff0000" stroke-width="2.2" />
<line x1="512.60" y1="551.00" x2="512.60" y2="615.70" stroke="#ff0000" stroke-width="2.2" />
<line x1="503.60" y1="499.60" x2="521.60" y2="499.60" stroke="#ff0000" stroke-width="2.2" />
<line x1="503.60" y1="615.70" x2="521.60" y2="615.70" stroke="#ff0000" stroke-width="2.2" />
<line x1="499.30" y1="533.00" x2="525.90" y2="533.00" stroke="#ff0000" stroke-width="4.3" />
<text x="448.28" y="462.00" font-size="19.59" fill="#0000ff" font-weight="normal" font-style="normal" textLength="35.19" lengthAdjust="spacingAndGlyphs">Sim</text>
<text x="496.71" y="490.60" font-size="20.14" fill="#ff0000" font-weight="normal" font-style="normal" textLength="33.76" lengthAdjust="spacingAndGlyphs">Gen</text>
<text x="441.47" y="437.00" font-size="26.48" fill="#000" font-weight="normal" font-style="normal" textLength="100.66" lengthAdjust="spacingAndGlyphs">E (GPa)</text>
<line x1="624.20" y1="458.80" x2="624.20" y2="668.50" stroke="#000" stroke-width="2.2" />
<line x1="613.20" y1="459.80" x2="624.20" y2="459.80" stroke="#000" stroke-width="2.2" />
<text x="573.01" y="466.70" font-size="19.00" fill="#000" font-weight="normal" font-style="normal">0.30</text>
<line x1="613.20" y1="564.30" x2="624.20" y2="564.30" stroke="#000" stroke-width="2.2" />
<text x="573.10" y="571.20" font-size="19.00" fill="#000" font-weight="normal" font-style="normal">0.25</text>
<line x1="613.20" y1="667.50" x2="624.20" y2="667.50" stroke="#000" stroke-width="2.2" />
<text x="573.01" y="674.40" font-size="19.00" fill="#000" font-weight="normal" font-style="normal">0.20</text>
<rect x="646.90" y="539.90" width="26.60" height="73.20" fill="none" stroke="#0000ff" stroke-width="2.2" />
<line x1="660.20" y1="539.90" x2="660.20" y2="505.60" stroke="#0000ff" stroke-width="2.2" />
<line x1="660.20" y1="613.10" x2="660.20" y2="629.00" stroke="#0000ff" stroke-width="2.2" />
<line x1="651.20" y1="505.60" x2="669.20" y2="505.60" stroke="#0000ff" stroke-width="2.2" />
<line x1="651.20" y1="629.00" x2="669.20" y2="629.00" stroke="#0000ff" stroke-width="2.2" />
<line x1="646.90" y1="587.00" x2="673.50" y2="587.00" stroke="#0000ff" stroke-width="4.3" />
<rect x="700.50" y="563.40" width="26.50" height="67.30" fill="none" stroke="#ff0000" stroke-width="2.2" />
<line x1="713.75" y1="563.40" x2="713.75" y2="533.50" stroke="#ff0000" stroke-width="2.2" />
<line x1="713.75" y1="630.70" x2="713.75" y2="640.50" stroke="#ff0000" stroke-width="2.2" />
<line x1="704.75" y1="533.50" x2="722.75" y2="533.50" stroke="#ff0000" stroke-width="2.2" />
<line x1="704.75" y1="640.50" x2="722.75" y2="640.50" stroke="#ff0000" stroke-width="2.2" />
<line x1="700.50" y1="602.40" x2="727.00" y2="602.40" stroke="#ff0000" stroke-width="4.3" />
<text x="644.81" y="494.00" font-size="19.45" fill="#0000ff" font-weight="normal" font-style="normal" textLength="34.23" lengthAdjust="spacingAndGlyphs">Sim</text>
<text x="696.06" y="523.60" font-size="20.14" fill="#ff0000" font-weight="normal" font-style="normal" textLength="35.57" lengthAdjust="spacingAndGlyphs">Gen</text>
<path d="M653.03,419.29 L656.57,417.69 L659.71,417.11 L659.89,422.14 L660.00,431.86 L664.00,429.57 L667.43,425.00 L669.43,421.00 L670.00,417.29 L670.86,417.29 L670.57,421.00 L669.14,425.57 L666.29,430.14 L662.86,433.57 L659.43,435.86 L656.29,436.43 L656.17,430.71 L656.29,425.00 L656.11,420.43 L655.43,419.74 L653.43,420.14 Z" fill="#000"/>
<text x="772.24" y="427.60" font-size="41.67" fill="#231f20" font-weight="bold" font-style="normal" textLength="25.84" lengthAdjust="spacingAndGlyphs">e</text>
<path d="M860.50,432.20 L861.40,432.20 L862.30,432.20 L863.20,432.20 L864.10,432.20 L865.00,432.20 L865.90,432.19 L866.80,432.18 L867.70,432.17 L868.60,432.15 L869.50,432.11 L870.40,432.05 L871.30,431.94 L872.20,431.78 L873.10,431.53 L874.00,431.18 L874.90,430.67 L875.80,429.97 L876.70,429.05 L877.60,427.86 L878.50,426.39 L879.40,424.64 L880.30,422.62 L881.20,420.40 L882.10,418.07 L883.00,415.74 L883.90,413.54 L884.80,411.64 L885.70,410.16 L886.60,409.22 L887.50,408.90 L888.40,409.22 L889.30,410.16 L890.20,411.64 L891.10,413.54 L892.00,415.74 L892.90,418.07 L893.80,420.40 L894.70,422.62 L895.60,424.64 L896.50,426.39 L897.40,427.86 L898.30,429.05 L899.20,429.97 L900.10,430.67 L901.00,431.18 L901.90,431.53 L902.80,431.78 L903.70,431.94 L904.60,432.05 L905.50,432.11 L906.40,432.15 L907.30,432.17 L908.20,432.18 L909.10,432.19 L910.00,432.20 L910.90,432.20 L911.80,432.20 L912.70,432.20 L913.60,432.20 L914.50,432.20 Z" fill="#28825a" fill-opacity="0.5" stroke="none"/>
<path d="M876.30,432.20 L877.20,432.20 L878.10,432.20 L879.00,432.20 L879.90,432.20 L880.80,432.20 L881.70,432.19 L882.60,432.18 L883.50,432.17 L884.40,432.15 L885.30,432.11 L886.20,432.05 L887.10,431.94 L888.00,431.78 L888.90,431.53 L889.80,431.18 L890.70,430.67 L891.60,429.97 L892.50,429.05 L893.40,427.86 L894.30,426.39 L895.20,424.64 L896.10,422.62 L897.00,420.40 L897.90,418.07 L898.80,415.74 L899.70,413.54 L900.60,411.64 L901.50,410.16 L902.40,409.22 L903.30,408.90 L904.20,409.22 L905.10,410.16 L906.00,411.64 L906.90,413.54 L907.80,415.74 L908.70,418.07 L909.60,420.40 L910.50,422.62 L911.40,424.64 L912.30,426.39 L913.20,427.86 L914.10,429.05 L915.00,429.97 L915.90,430.67 L916.80,431.18 L917.70,431.53 L918.60,431.78 L919.50,431.94 L920.40,432.05 L921.30,432.11 L922.20,432.15 L923.10,432.17 L924.00,432.18 L924.90,432.19 L925.80,432.20 L926.70,432.20 L927.60,432.20 L928.50,432.20 L929.40,432.20 L930.30,432.20 Z" fill="#28825a" fill-opacity="0.5" stroke="none"/>
<path d="M989.20,432.20 L990.10,432.20 L991.00,432.20 L991.90,432.20 L992.80,432.20 L993.70,432.20 L994.60,432.19 L995.50,432.18 L996.40,432.17 L997.30,432.15 L998.20,432.11 L999.10,432.05 L1000.00,431.94 L1000.90,431.78 L1001.80,431.53 L1002.70,431.18 L1003.60,430.67 L1004.50,429.97 L1005.40,429.05 L1006.30,427.86 L1007.20,426.39 L1008.10,424.64 L1009.00,422.62 L1009.90,420.40 L1010.80,418.07 L1011.70,415.74 L1012.60,413.54 L1013.50,411.64 L1014.40,410.16 L1015.30,409.22 L1016.20,408.90 L1017.10,409.22 L1018.00,410.16 L1018.90,411.64 L1019.80,413.54 L1020.70,415.74 L1021.60,418.07 L1022.50,420.40 L1023.40,422.62 L1024.30,424.64 L1025.20,426.39 L1026.10,427.86 L1027.00,429.05 L1027.90,429.97 L1028.80,430.67 L1029.70,431.18 L1030.60,431.53 L1031.50,431.78 L1032.40,431.94 L1033.30,432.05 L1034.20,432.11 L1035.10,432.15 L1036.00,432.17 L1036.90,432.18 L1037.80,432.19 L1038.70,432.20 L1039.60,432.20 L1040.50,432.20 L1041.40,432.20 L1042.30,432.20 L1043.20,432.20 Z" fill="#28825a" fill-opacity="0.5" stroke="none"/>
<path d="M993.20,432.20 L994.10,432.20 L995.00,432.20 L995.90,432.20 L996.80,432.20 L997.70,432.20 L998.60,432.19 L999.50,432.18 L1000.40,432.17 L1001.30,432.15 L1002.20,432.11 L1003.10,432.05 L1004.00,431.94 L1004.90,431.78 L1005.80,431.53 L1006.70,431.18 L1007.60,430.67 L1008.50,429.97 L1009.40,429.05 L1010.30,427.86 L1011.20,426.39 L1012.10,424.64 L1013.00,422.62 L1013.90,420.40 L1014.80,418.07 L1015.70,415.74 L1016.60,413.54 L1017.50,411.64 L1018.40,410.16 L1019.30,409.22 L1020.20,408.90 L1021.10,409.22 L1022.00,410.16 L1022.90,411.64 L1023.80,413.54 L1024.70,415.74 L1025.60,418.07 L1026.50,420.40 L1027.40,422.62 L1028.30,424.64 L1029.20,426.39 L1030.10,427.86 L1031.00,429.05 L1031.90,429.97 L1032.80,430.67 L1033.70,431.18 L1034.60,431.53 L1035.50,431.78 L1036.40,431.94 L1037.30,432.05 L1038.20,432.11 L1039.10,432.15 L1040.00,432.17 L1040.90,432.18 L1041.80,432.19 L1042.70,432.20 L1043.60,432.20 L1044.50,432.20 L1045.40,432.20 L1046.30,432.20 L1047.20,432.20 Z" fill="#28825a" fill-opacity="0.5" stroke="none"/>
<text x="841.35" y="455.10" font-size="19.50" fill="#6e6e6e" font-weight="normal" font-style="normal" textLength="95.03" lengthAdjust="spacingAndGlyphs">less similar</text>
<text x="965.09" y="455.10" font-size="19.50" fill="#6e6e6e" font-weight="normal" font-style="normal" textLength="109.82" lengthAdjust="spacingAndGlyphs">more similar</text>
<line x1="857.50" y1="467.20" x2="906.40" y2="467.20" stroke="#6e6e6e" stroke-width="2" />
<path d="M865.00,460.20 L858.00,467.20 L865.00,474.20" fill="none" stroke="#6e6e6e" stroke-width="2" stroke-linejoin="round" stroke-linecap="butt" />
<line x1="1010.10" y1="467.20" x2="1059.00" y2="467.20" stroke="#6e6e6e" stroke-width="2" />
<path d="M1052.00,460.20 L1059.00,467.20 L1052.00,474.20" fill="none" stroke="#6e6e6e" stroke-width="2" stroke-linejoin="round" stroke-linecap="butt" />
<text x="807.10" y="512.70" font-size="21.86" fill="#000" font-weight="normal" font-style="normal" textLength="34.08" lengthAdjust="spacingAndGlyphs">Gen</text>
<text x="861.31" y="512.70" font-size="21.10" fill="#000" font-weight="normal" font-style="normal" textLength="34.02" lengthAdjust="spacingAndGlyphs">Sim</text>
<line x1="851.60" y1="496.40" x2="851.60" y2="517.80" stroke="#000" stroke-width="1.3" />
<text x="806.72" y="561.80" font-size="21.66" fill="#0000ff" font-weight="normal" font-style="normal" textLength="33.81" lengthAdjust="spacingAndGlyphs">Sim</text>
<text x="860.72" y="561.80" font-size="21.66" fill="#0000ff" font-weight="normal" font-style="normal" textLength="33.59" lengthAdjust="spacingAndGlyphs">Sim</text>
<line x1="850.60" y1="545.40" x2="850.60" y2="566.70" stroke="#0000ff" stroke-width="1.3" />
<text x="807.20" y="611.80" font-size="22.43" fill="#ff0000" font-weight="normal" font-style="normal" textLength="34.08" lengthAdjust="spacingAndGlyphs">Gen</text>
<text x="862.10" y="611.80" font-size="22.43" fill="#ff0000" font-weight="normal" font-style="normal" textLength="33.86" lengthAdjust="spacingAndGlyphs">Gen</text>
<line x1="851.60" y1="595.40" x2="851.60" y2="616.70" stroke="#ff0000" stroke-width="1.3" />
<rect x="963.60" y="497.05" width="10.30" height="19.50" fill="none" stroke="#000" stroke-width="1.8" />
<line x1="943.30" y1="506.80" x2="963.60" y2="506.80" stroke="#000" stroke-width="1.8" />
<line x1="973.90" y1="506.80" x2="984.00" y2="506.80" stroke="#000" stroke-width="1.8" />
<line x1="943.30" y1="496.75" x2="943.30" y2="516.85" stroke="#000" stroke-width="1.8" />
<line x1="984.00" y1="496.75" x2="984.00" y2="516.85" stroke="#000" stroke-width="1.8" />
<line x1="973.20" y1="497.05" x2="973.20" y2="516.55" stroke="#000" stroke-width="3.0" />
<rect x="1003.90" y="548.55" width="30.40" height="19.30" fill="none" stroke="#0000ff" stroke-width="1.8" />
<line x1="983.10" y1="558.20" x2="1003.90" y2="558.20" stroke="#0000ff" stroke-width="1.8" />
<line x1="1034.30" y1="558.20" x2="1044.60" y2="558.20" stroke="#0000ff" stroke-width="1.8" />
<line x1="983.10" y1="548.25" x2="983.10" y2="568.15" stroke="#0000ff" stroke-width="1.8" />
<line x1="1044.60" y1="548.25" x2="1044.60" y2="568.15" stroke="#0000ff" stroke-width="1.8" />
<line x1="1004.20" y1="548.55" x2="1004.20" y2="567.85" stroke="#0000ff" stroke-width="3.0" />
<rect x="953.10" y="596.05" width="20.80" height="19.90" fill="none" stroke="#ff0000" stroke-width="1.8" />
<line x1="942.90" y1="606.00" x2="953.10" y2="606.00" stroke="#ff0000" stroke-width="1.8" />
<line x1="973.90" y1="606.00" x2="984.00" y2="606.00" stroke="#ff0000" stroke-width="1.8" />
<line x1="942.90" y1="595.75" x2="942.90" y2="616.25" stroke="#ff0000" stroke-width="1.8" />
<line x1="984.00" y1="595.75" x2="984.00" y2="616.25" stroke="#ff0000" stroke-width="1.8" />
<line x1="963.60" y1="596.05" x2="963.60" y2="615.95" stroke="#ff0000" stroke-width="3.0" />
<line x1="861.80" y1="637.00" x2="1064.80" y2="637.00" stroke="#000" stroke-width="2" />
<line x1="861.80" y1="636.00" x2="861.80" y2="645.00" stroke="#000" stroke-width="2" />
<text x="851.11" y="666.10" font-size="19.00" fill="#000" font-weight="normal" font-style="normal">60</text>
<line x1="963.20" y1="636.00" x2="963.20" y2="645.00" stroke="#000" stroke-width="2" />
<text x="952.51" y="666.10" font-size="19.00" fill="#000" font-weight="normal" font-style="normal">70</text>
<line x1="1064.80" y1="636.00" x2="1064.80" y2="645.00" stroke="#000" stroke-width="2" />
<text x="1054.16" y="666.10" font-size="19.00" fill="#000" font-weight="normal" font-style="normal">80</text>
<text x="899.32" y="693.60" font-size="22.34" fill="#000" font-weight="normal" font-style="normal" textLength="127.93" lengthAdjust="spacingAndGlyphs">Overlap (%)</text>
<text x="1117.22" y="430.90" font-size="44.69" fill="#231f20" font-weight="bold" font-style="normal" textLength="17.38" lengthAdjust="spacingAndGlyphs">f</text>
<text x="1355.25" y="406.00" font-size="20.00" fill="#000" font-weight="normal" font-style="normal" textLength="45.18" lengthAdjust="spacingAndGlyphs">log n</text>
<line x1="1408.00" y1="398.20" x2="1422.80" y2="398.20" stroke="#000" stroke-width="1.4" />
<line x1="1408.00" y1="403.30" x2="1422.80" y2="403.30" stroke="#000" stroke-width="1.4" />
<text x="1430.09" y="406.00" font-size="20.00" fill="#000" font-weight="normal" font-style="normal" textLength="28.12" lengthAdjust="spacingAndGlyphs">8.0</text>
<line x1="1211.00" y1="629.80" x2="1459.50" y2="629.80" stroke="#4d4dff" stroke-width="4" />
<path d="M1214.00,413.00 C1214.03,417.17 1214.03,432.50 1214.20,438.00 C1214.37,443.50 1214.53,443.50 1215.00,446.00 C1215.47,448.50 1216.17,450.83 1217.00,453.00 C1217.83,455.17 1218.83,457.25 1220.00,459.00 C1221.17,460.75 1222.00,462.08 1224.00,463.50 C1226.00,464.92 1229.00,466.42 1232.00,467.50 C1235.00,468.58 1238.17,469.32 1242.00,470.00 C1245.83,470.68 1250.33,471.22 1255.00,471.60 C1259.67,471.98 1264.17,472.18 1270.00,472.30 C1275.83,472.42 1281.67,472.30 1290.00,472.30 C1298.33,472.30 1311.67,472.42 1320.00,472.30 C1328.33,472.18 1333.33,471.60 1340.00,471.60 C1346.67,471.60 1340.33,472.18 1360.00,472.30 C1379.67,472.42 1441.67,472.30 1458.00,472.30" fill="none" stroke="#ff0000" stroke-width="4" stroke-linejoin="round" stroke-dasharray="10,5" />
<path d="M1213.50,412.90 C1227.92,412.92 1275.58,412.98 1300.00,413.00 C1324.42,413.02 1345.43,412.88 1360.00,413.00 C1374.57,413.12 1380.55,413.30 1387.40,413.70 C1394.25,414.10 1397.10,414.25 1401.10,415.40 C1405.10,416.55 1408.33,418.17 1411.40,420.60 C1414.47,423.03 1416.90,425.93 1419.50,430.00 C1422.10,434.07 1425.00,440.00 1427.00,445.00 C1429.00,450.00 1430.25,455.50 1431.50,460.00 C1432.75,464.50 1433.50,467.00 1434.50,472.00 C1435.50,477.00 1436.52,483.03 1437.50,490.00 C1438.48,496.97 1439.42,505.83 1440.40,513.80 C1441.38,521.77 1442.40,529.32 1443.40,537.80 C1444.40,546.28 1445.40,555.72 1446.40,564.70 C1447.40,573.68 1448.55,584.22 1449.40,591.70 C1450.25,599.18 1450.75,604.37 1451.50,609.60 C1452.25,614.83 1453.00,620.00 1453.90,623.10 C1454.80,626.20 1456.00,627.22 1456.90,628.20 C1457.80,629.18 1458.90,628.87 1459.30,629.00" fill="none" stroke="#ff0000" stroke-width="4" stroke-linejoin="round" />
<line x1="1213.00" y1="412.90" x2="1458.00" y2="412.90" stroke="#000" stroke-width="2.1" />
<line x1="1213.10" y1="412.00" x2="1213.10" y2="640.60" stroke="#000" stroke-width="2" />
<line x1="1212.10" y1="639.60" x2="1458.70" y2="639.60" stroke="#000" stroke-width="2" />
<line x1="1207.50" y1="412.90" x2="1213.10" y2="412.90" stroke="#000" stroke-width="2" />
<text x="1181.49" y="419.40" font-size="15.80" fill="#000" font-weight="normal" font-style="normal">8.0</text>
<line x1="1207.50" y1="488.47" x2="1213.10" y2="488.47" stroke="#000" stroke-width="2" />
<text x="1181.57" y="494.97" font-size="15.80" fill="#000" font-weight="normal" font-style="normal">7.5</text>
<line x1="1207.50" y1="564.03" x2="1213.10" y2="564.03" stroke="#000" stroke-width="2" />
<text x="1181.49" y="570.53" font-size="15.80" fill="#000" font-weight="normal" font-style="normal">7.0</text>
<line x1="1207.50" y1="639.60" x2="1213.10" y2="639.60" stroke="#000" stroke-width="2" />
<text x="1181.57" y="646.10" font-size="15.80" fill="#000" font-weight="normal" font-style="normal">6.5</text>
<line x1="1212.60" y1="639.60" x2="1212.60" y2="645.50" stroke="#000" stroke-width="2" />
<text x="1207.42" y="664.00" font-size="18.50" fill="#000" font-weight="normal" font-style="normal">0</text>
<line x1="1294.03" y1="639.60" x2="1294.03" y2="645.50" stroke="#000" stroke-width="2" />
<text x="1273.08" y="664.00" font-size="18.50" fill="#000" font-weight="normal" font-style="normal">1000</text>
<line x1="1375.47" y1="639.60" x2="1375.47" y2="645.50" stroke="#000" stroke-width="2" />
<text x="1354.75" y="664.00" font-size="18.50" fill="#000" font-weight="normal" font-style="normal">2000</text>
<line x1="1456.90" y1="639.60" x2="1456.90" y2="645.50" stroke="#000" stroke-width="2" />
<text x="1436.27" y="664.00" font-size="18.50" fill="#000" font-weight="normal" font-style="normal">3000</text>
<text x="1224.20" y="433.50" font-size="20.50" fill="#ff0000" font-weight="normal" font-style="normal" textLength="89.64" lengthAdjust="spacingAndGlyphs">with noise</text>
<text x="1224.20" y="493.70" font-size="20.50" fill="#ff0000" font-weight="normal" font-style="normal" textLength="118.45" lengthAdjust="spacingAndGlyphs">without noise</text>
<text x="1222.80" y="622.90" font-size="20.50" fill="#0000ff" font-weight="normal" font-style="normal" textLength="85.50" lengthAdjust="spacingAndGlyphs">simulated</text>
<text x="1246.87" y="691.80" font-size="26.00" fill="#000" font-weight="normal" font-style="normal" textLength="178.51" lengthAdjust="spacingAndGlyphs">denoising steps</text>
<text transform="translate(1166.00,610.70) rotate(-90)" x="-1.10" y="0" font-size="26.00" fill="#000" font-weight="normal" font-style="normal" textLength="169.58" lengthAdjust="spacingAndGlyphs">entropy (nats)</text>
</svg>
</body></html>
